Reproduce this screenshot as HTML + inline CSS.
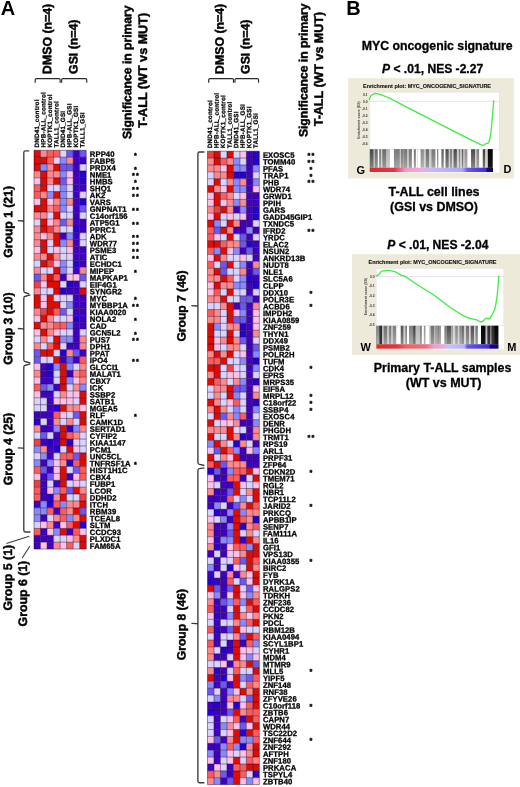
<!DOCTYPE html>
<html lang="en"><head><meta charset="utf-8"><title>Figure</title>
<style>html,body{margin:0;padding:0;background:#fff}svg{display:block}</style></head>
<body>
<svg width="520" height="787" viewBox="0 0 520 787" font-family="'Liberation Sans', sans-serif" font-weight="bold" fill="#000">
<rect width="520" height="787" fill="#fff"/>
<text x="0.8" y="14.6" font-size="20">A</text>
<text x="346.2" y="14.5" font-size="20">B</text>
<defs><filter id="soft" x="-2%" y="-1%" width="104%" height="102%"><feGaussianBlur stdDeviation="0.4"/></filter></defs>
<g id="hmL" filter="url(#soft)"><rect x="34.00" y="150.30" width="6.53" height="6.88" fill="#DE0806"/>
<rect x="40.53" y="150.30" width="6.53" height="6.88" fill="#FF8989"/>
<rect x="47.06" y="150.30" width="6.53" height="6.88" fill="#FF5A5A"/>
<rect x="53.59" y="150.30" width="6.53" height="6.88" fill="#FF5A5A"/>
<rect x="60.12" y="150.30" width="6.53" height="6.88" fill="#D8D4FF"/>
<rect x="66.65" y="150.30" width="6.53" height="6.88" fill="#6B58EF"/>
<rect x="73.18" y="150.30" width="6.53" height="6.88" fill="#4000C2"/>
<rect x="79.71" y="150.30" width="6.53" height="6.88" fill="#6B58EF"/>
<rect x="34.00" y="157.18" width="6.53" height="6.88" fill="#DE0806"/>
<rect x="40.53" y="157.18" width="6.53" height="6.88" fill="#DE0806"/>
<rect x="47.06" y="157.18" width="6.53" height="6.88" fill="#FF5A5A"/>
<rect x="53.59" y="157.18" width="6.53" height="6.88" fill="#D8D4FF"/>
<rect x="60.12" y="157.18" width="6.53" height="6.88" fill="#8888FF"/>
<rect x="66.65" y="157.18" width="6.53" height="6.88" fill="#FF8989"/>
<rect x="73.18" y="157.18" width="6.53" height="6.88" fill="#4000C2"/>
<rect x="79.71" y="157.18" width="6.53" height="6.88" fill="#4000C2"/>
<rect x="34.00" y="164.05" width="6.53" height="6.88" fill="#DE0806"/>
<rect x="40.53" y="164.05" width="6.53" height="6.88" fill="#8888FF"/>
<rect x="47.06" y="164.05" width="6.53" height="6.88" fill="#FF8989"/>
<rect x="53.59" y="164.05" width="6.53" height="6.88" fill="#DE0806"/>
<rect x="60.12" y="164.05" width="6.53" height="6.88" fill="#6B58EF"/>
<rect x="66.65" y="164.05" width="6.53" height="6.88" fill="#6B58EF"/>
<rect x="73.18" y="164.05" width="6.53" height="6.88" fill="#4000C2"/>
<rect x="79.71" y="164.05" width="6.53" height="6.88" fill="#D8D4FF"/>
<rect x="34.00" y="170.93" width="6.53" height="6.88" fill="#FF8989"/>
<rect x="40.53" y="170.93" width="6.53" height="6.88" fill="#DE0806"/>
<rect x="47.06" y="170.93" width="6.53" height="6.88" fill="#FF8989"/>
<rect x="53.59" y="170.93" width="6.53" height="6.88" fill="#FF8989"/>
<rect x="60.12" y="170.93" width="6.53" height="6.88" fill="#8888FF"/>
<rect x="66.65" y="170.93" width="6.53" height="6.88" fill="#FFC0E5"/>
<rect x="73.18" y="170.93" width="6.53" height="6.88" fill="#4000C2"/>
<rect x="79.71" y="170.93" width="6.53" height="6.88" fill="#2700D1"/>
<rect x="34.00" y="177.80" width="6.53" height="6.88" fill="#FFC0E5"/>
<rect x="40.53" y="177.80" width="6.53" height="6.88" fill="#DE0806"/>
<rect x="47.06" y="177.80" width="6.53" height="6.88" fill="#FF8989"/>
<rect x="53.59" y="177.80" width="6.53" height="6.88" fill="#DE0806"/>
<rect x="60.12" y="177.80" width="6.53" height="6.88" fill="#6B58EF"/>
<rect x="66.65" y="177.80" width="6.53" height="6.88" fill="#FFC0E5"/>
<rect x="73.18" y="177.80" width="6.53" height="6.88" fill="#4000C2"/>
<rect x="79.71" y="177.80" width="6.53" height="6.88" fill="#2700D1"/>
<rect x="34.00" y="184.68" width="6.53" height="6.88" fill="#FF5A5A"/>
<rect x="40.53" y="184.68" width="6.53" height="6.88" fill="#DE0806"/>
<rect x="47.06" y="184.68" width="6.53" height="6.88" fill="#D8D4FF"/>
<rect x="53.59" y="184.68" width="6.53" height="6.88" fill="#D8D4FF"/>
<rect x="60.12" y="184.68" width="6.53" height="6.88" fill="#8888FF"/>
<rect x="66.65" y="184.68" width="6.53" height="6.88" fill="#D8D4FF"/>
<rect x="73.18" y="184.68" width="6.53" height="6.88" fill="#4000C2"/>
<rect x="79.71" y="184.68" width="6.53" height="6.88" fill="#4000C2"/>
<rect x="34.00" y="191.55" width="6.53" height="6.88" fill="#FF5A5A"/>
<rect x="40.53" y="191.55" width="6.53" height="6.88" fill="#FF8989"/>
<rect x="47.06" y="191.55" width="6.53" height="6.88" fill="#8888FF"/>
<rect x="53.59" y="191.55" width="6.53" height="6.88" fill="#DE0806"/>
<rect x="60.12" y="191.55" width="6.53" height="6.88" fill="#8888FF"/>
<rect x="66.65" y="191.55" width="6.53" height="6.88" fill="#D8D4FF"/>
<rect x="73.18" y="191.55" width="6.53" height="6.88" fill="#4000C2"/>
<rect x="79.71" y="191.55" width="6.53" height="6.88" fill="#D8D4FF"/>
<rect x="34.00" y="198.43" width="6.53" height="6.88" fill="#FFC0E5"/>
<rect x="40.53" y="198.43" width="6.53" height="6.88" fill="#DE0806"/>
<rect x="47.06" y="198.43" width="6.53" height="6.88" fill="#FFC0E5"/>
<rect x="53.59" y="198.43" width="6.53" height="6.88" fill="#FF8989"/>
<rect x="60.12" y="198.43" width="6.53" height="6.88" fill="#8888FF"/>
<rect x="66.65" y="198.43" width="6.53" height="6.88" fill="#FF8989"/>
<rect x="73.18" y="198.43" width="6.53" height="6.88" fill="#4000C2"/>
<rect x="79.71" y="198.43" width="6.53" height="6.88" fill="#2700D1"/>
<rect x="34.00" y="205.30" width="6.53" height="6.88" fill="#DE0806"/>
<rect x="40.53" y="205.30" width="6.53" height="6.88" fill="#DE0806"/>
<rect x="47.06" y="205.30" width="6.53" height="6.88" fill="#FF8989"/>
<rect x="53.59" y="205.30" width="6.53" height="6.88" fill="#FF5A5A"/>
<rect x="60.12" y="205.30" width="6.53" height="6.88" fill="#8888FF"/>
<rect x="66.65" y="205.30" width="6.53" height="6.88" fill="#D8D4FF"/>
<rect x="73.18" y="205.30" width="6.53" height="6.88" fill="#4000C2"/>
<rect x="79.71" y="205.30" width="6.53" height="6.88" fill="#6B58EF"/>
<rect x="34.00" y="212.18" width="6.53" height="6.88" fill="#FF8989"/>
<rect x="40.53" y="212.18" width="6.53" height="6.88" fill="#FF8989"/>
<rect x="47.06" y="212.18" width="6.53" height="6.88" fill="#D8D4FF"/>
<rect x="53.59" y="212.18" width="6.53" height="6.88" fill="#DE0806"/>
<rect x="60.12" y="212.18" width="6.53" height="6.88" fill="#D8D4FF"/>
<rect x="66.65" y="212.18" width="6.53" height="6.88" fill="#D8D4FF"/>
<rect x="73.18" y="212.18" width="6.53" height="6.88" fill="#4000C2"/>
<rect x="79.71" y="212.18" width="6.53" height="6.88" fill="#D8D4FF"/>
<rect x="34.00" y="219.05" width="6.53" height="6.88" fill="#D8D4FF"/>
<rect x="40.53" y="219.05" width="6.53" height="6.88" fill="#DE0806"/>
<rect x="47.06" y="219.05" width="6.53" height="6.88" fill="#FFC0E5"/>
<rect x="53.59" y="219.05" width="6.53" height="6.88" fill="#FF8989"/>
<rect x="60.12" y="219.05" width="6.53" height="6.88" fill="#6B58EF"/>
<rect x="66.65" y="219.05" width="6.53" height="6.88" fill="#FF8989"/>
<rect x="73.18" y="219.05" width="6.53" height="6.88" fill="#4000C2"/>
<rect x="79.71" y="219.05" width="6.53" height="6.88" fill="#4000C2"/>
<rect x="34.00" y="225.93" width="6.53" height="6.88" fill="#FF8989"/>
<rect x="40.53" y="225.93" width="6.53" height="6.88" fill="#DE0806"/>
<rect x="47.06" y="225.93" width="6.53" height="6.88" fill="#EF4040"/>
<rect x="53.59" y="225.93" width="6.53" height="6.88" fill="#FF8989"/>
<rect x="60.12" y="225.93" width="6.53" height="6.88" fill="#D8D4FF"/>
<rect x="66.65" y="225.93" width="6.53" height="6.88" fill="#D8D4FF"/>
<rect x="73.18" y="225.93" width="6.53" height="6.88" fill="#2700D1"/>
<rect x="79.71" y="225.93" width="6.53" height="6.88" fill="#4000C2"/>
<rect x="34.00" y="232.80" width="6.53" height="6.88" fill="#FF8989"/>
<rect x="40.53" y="232.80" width="6.53" height="6.88" fill="#FFC0E5"/>
<rect x="47.06" y="232.80" width="6.53" height="6.88" fill="#FF8989"/>
<rect x="53.59" y="232.80" width="6.53" height="6.88" fill="#DE0806"/>
<rect x="60.12" y="232.80" width="6.53" height="6.88" fill="#4000C2"/>
<rect x="66.65" y="232.80" width="6.53" height="6.88" fill="#8888FF"/>
<rect x="73.18" y="232.80" width="6.53" height="6.88" fill="#4000C2"/>
<rect x="79.71" y="232.80" width="6.53" height="6.88" fill="#D8D4FF"/>
<rect x="34.00" y="239.68" width="6.53" height="6.88" fill="#FF8989"/>
<rect x="40.53" y="239.68" width="6.53" height="6.88" fill="#DE0806"/>
<rect x="47.06" y="239.68" width="6.53" height="6.88" fill="#D8D4FF"/>
<rect x="53.59" y="239.68" width="6.53" height="6.88" fill="#DE0806"/>
<rect x="60.12" y="239.68" width="6.53" height="6.88" fill="#8888FF"/>
<rect x="66.65" y="239.68" width="6.53" height="6.88" fill="#FF8989"/>
<rect x="73.18" y="239.68" width="6.53" height="6.88" fill="#4000C2"/>
<rect x="79.71" y="239.68" width="6.53" height="6.88" fill="#D8D4FF"/>
<rect x="34.00" y="246.55" width="6.53" height="6.88" fill="#FFC0E5"/>
<rect x="40.53" y="246.55" width="6.53" height="6.88" fill="#DE0806"/>
<rect x="47.06" y="246.55" width="6.53" height="6.88" fill="#D8D4FF"/>
<rect x="53.59" y="246.55" width="6.53" height="6.88" fill="#FFC0E5"/>
<rect x="60.12" y="246.55" width="6.53" height="6.88" fill="#D8D4FF"/>
<rect x="66.65" y="246.55" width="6.53" height="6.88" fill="#FFC0E5"/>
<rect x="73.18" y="246.55" width="6.53" height="6.88" fill="#4000C2"/>
<rect x="79.71" y="246.55" width="6.53" height="6.88" fill="#4000C2"/>
<rect x="34.00" y="253.43" width="6.53" height="6.88" fill="#FF8989"/>
<rect x="40.53" y="253.43" width="6.53" height="6.88" fill="#FF8989"/>
<rect x="47.06" y="253.43" width="6.53" height="6.88" fill="#DE0806"/>
<rect x="53.59" y="253.43" width="6.53" height="6.88" fill="#FF8989"/>
<rect x="60.12" y="253.43" width="6.53" height="6.88" fill="#D8D4FF"/>
<rect x="66.65" y="253.43" width="6.53" height="6.88" fill="#D8D4FF"/>
<rect x="73.18" y="253.43" width="6.53" height="6.88" fill="#4000C2"/>
<rect x="79.71" y="253.43" width="6.53" height="6.88" fill="#4000C2"/>
<rect x="34.00" y="260.30" width="6.53" height="6.88" fill="#D8D4FF"/>
<rect x="40.53" y="260.30" width="6.53" height="6.88" fill="#DE0806"/>
<rect x="47.06" y="260.30" width="6.53" height="6.88" fill="#EF4040"/>
<rect x="53.59" y="260.30" width="6.53" height="6.88" fill="#FFC0E5"/>
<rect x="60.12" y="260.30" width="6.53" height="6.88" fill="#8888FF"/>
<rect x="66.65" y="260.30" width="6.53" height="6.88" fill="#D8D4FF"/>
<rect x="73.18" y="260.30" width="6.53" height="6.88" fill="#2700D1"/>
<rect x="79.71" y="260.30" width="6.53" height="6.88" fill="#4000C2"/>
<rect x="34.00" y="267.18" width="6.53" height="6.88" fill="#FF8989"/>
<rect x="40.53" y="267.18" width="6.53" height="6.88" fill="#D8D4FF"/>
<rect x="47.06" y="267.18" width="6.53" height="6.88" fill="#D8D4FF"/>
<rect x="53.59" y="267.18" width="6.53" height="6.88" fill="#DE0806"/>
<rect x="60.12" y="267.18" width="6.53" height="6.88" fill="#8888FF"/>
<rect x="66.65" y="267.18" width="6.53" height="6.88" fill="#D8D4FF"/>
<rect x="73.18" y="267.18" width="6.53" height="6.88" fill="#4000C2"/>
<rect x="79.71" y="267.18" width="6.53" height="6.88" fill="#FF8989"/>
<rect x="34.00" y="274.05" width="6.53" height="6.88" fill="#6B58EF"/>
<rect x="40.53" y="274.05" width="6.53" height="6.88" fill="#FF8989"/>
<rect x="47.06" y="274.05" width="6.53" height="6.88" fill="#DE0806"/>
<rect x="53.59" y="274.05" width="6.53" height="6.88" fill="#FF5A5A"/>
<rect x="60.12" y="274.05" width="6.53" height="6.88" fill="#4000C2"/>
<rect x="66.65" y="274.05" width="6.53" height="6.88" fill="#FFC0E5"/>
<rect x="73.18" y="274.05" width="6.53" height="6.88" fill="#FFC0E5"/>
<rect x="79.71" y="274.05" width="6.53" height="6.88" fill="#6B58EF"/>
<rect x="34.00" y="280.93" width="6.53" height="6.88" fill="#EF4040"/>
<rect x="40.53" y="280.93" width="6.53" height="6.88" fill="#FFC0E5"/>
<rect x="47.06" y="280.93" width="6.53" height="6.88" fill="#DE0806"/>
<rect x="53.59" y="280.93" width="6.53" height="6.88" fill="#DE0806"/>
<rect x="60.12" y="280.93" width="6.53" height="6.88" fill="#D8D4FF"/>
<rect x="66.65" y="280.93" width="6.53" height="6.88" fill="#2700D1"/>
<rect x="73.18" y="280.93" width="6.53" height="6.88" fill="#4000C2"/>
<rect x="79.71" y="280.93" width="6.53" height="6.88" fill="#D8D4FF"/>
<rect x="34.00" y="287.80" width="6.53" height="6.88" fill="#FF8989"/>
<rect x="40.53" y="287.80" width="6.53" height="6.88" fill="#D8D4FF"/>
<rect x="47.06" y="287.80" width="6.53" height="6.88" fill="#D8D4FF"/>
<rect x="53.59" y="287.80" width="6.53" height="6.88" fill="#DE0806"/>
<rect x="60.12" y="287.80" width="6.53" height="6.88" fill="#2700D1"/>
<rect x="66.65" y="287.80" width="6.53" height="6.88" fill="#4000C2"/>
<rect x="73.18" y="287.80" width="6.53" height="6.88" fill="#4000C2"/>
<rect x="79.71" y="287.80" width="6.53" height="6.88" fill="#DE0806"/>
<rect x="34.00" y="294.68" width="6.53" height="6.88" fill="#DE0806"/>
<rect x="40.53" y="294.68" width="6.53" height="6.88" fill="#FFC0E5"/>
<rect x="47.06" y="294.68" width="6.53" height="6.88" fill="#DE0806"/>
<rect x="53.59" y="294.68" width="6.53" height="6.88" fill="#D8D4FF"/>
<rect x="60.12" y="294.68" width="6.53" height="6.88" fill="#D8D4FF"/>
<rect x="66.65" y="294.68" width="6.53" height="6.88" fill="#D8D4FF"/>
<rect x="73.18" y="294.68" width="6.53" height="6.88" fill="#4000C2"/>
<rect x="79.71" y="294.68" width="6.53" height="6.88" fill="#4000C2"/>
<rect x="34.00" y="301.55" width="6.53" height="6.88" fill="#DE0806"/>
<rect x="40.53" y="301.55" width="6.53" height="6.88" fill="#FFC0E5"/>
<rect x="47.06" y="301.55" width="6.53" height="6.88" fill="#DE0806"/>
<rect x="53.59" y="301.55" width="6.53" height="6.88" fill="#DE0806"/>
<rect x="60.12" y="301.55" width="6.53" height="6.88" fill="#D8D4FF"/>
<rect x="66.65" y="301.55" width="6.53" height="6.88" fill="#8888FF"/>
<rect x="73.18" y="301.55" width="6.53" height="6.88" fill="#4000C2"/>
<rect x="79.71" y="301.55" width="6.53" height="6.88" fill="#4000C2"/>
<rect x="34.00" y="308.43" width="6.53" height="6.88" fill="#FF8989"/>
<rect x="40.53" y="308.43" width="6.53" height="6.88" fill="#EF4040"/>
<rect x="47.06" y="308.43" width="6.53" height="6.88" fill="#DE0806"/>
<rect x="53.59" y="308.43" width="6.53" height="6.88" fill="#FF5A5A"/>
<rect x="60.12" y="308.43" width="6.53" height="6.88" fill="#6B58EF"/>
<rect x="66.65" y="308.43" width="6.53" height="6.88" fill="#D8D4FF"/>
<rect x="73.18" y="308.43" width="6.53" height="6.88" fill="#4000C2"/>
<rect x="79.71" y="308.43" width="6.53" height="6.88" fill="#4000C2"/>
<rect x="34.00" y="315.30" width="6.53" height="6.88" fill="#FFC0E5"/>
<rect x="40.53" y="315.30" width="6.53" height="6.88" fill="#DE0806"/>
<rect x="47.06" y="315.30" width="6.53" height="6.88" fill="#FF8989"/>
<rect x="53.59" y="315.30" width="6.53" height="6.88" fill="#D8D4FF"/>
<rect x="60.12" y="315.30" width="6.53" height="6.88" fill="#D8D4FF"/>
<rect x="66.65" y="315.30" width="6.53" height="6.88" fill="#FFC0E5"/>
<rect x="73.18" y="315.30" width="6.53" height="6.88" fill="#2700D1"/>
<rect x="79.71" y="315.30" width="6.53" height="6.88" fill="#4000C2"/>
<rect x="34.00" y="322.18" width="6.53" height="6.88" fill="#DE0806"/>
<rect x="40.53" y="322.18" width="6.53" height="6.88" fill="#FF8989"/>
<rect x="47.06" y="322.18" width="6.53" height="6.88" fill="#FF8989"/>
<rect x="53.59" y="322.18" width="6.53" height="6.88" fill="#FF5A5A"/>
<rect x="60.12" y="322.18" width="6.53" height="6.88" fill="#FF5A5A"/>
<rect x="66.65" y="322.18" width="6.53" height="6.88" fill="#8888FF"/>
<rect x="73.18" y="322.18" width="6.53" height="6.88" fill="#4000C2"/>
<rect x="79.71" y="322.18" width="6.53" height="6.88" fill="#4000C2"/>
<rect x="34.00" y="329.05" width="6.53" height="6.88" fill="#FFC0E5"/>
<rect x="40.53" y="329.05" width="6.53" height="6.88" fill="#DE0806"/>
<rect x="47.06" y="329.05" width="6.53" height="6.88" fill="#FF8989"/>
<rect x="53.59" y="329.05" width="6.53" height="6.88" fill="#FFC0E5"/>
<rect x="60.12" y="329.05" width="6.53" height="6.88" fill="#D8D4FF"/>
<rect x="66.65" y="329.05" width="6.53" height="6.88" fill="#D8D4FF"/>
<rect x="73.18" y="329.05" width="6.53" height="6.88" fill="#4000C2"/>
<rect x="79.71" y="329.05" width="6.53" height="6.88" fill="#D8D4FF"/>
<rect x="34.00" y="335.93" width="6.53" height="6.88" fill="#D8D4FF"/>
<rect x="40.53" y="335.93" width="6.53" height="6.88" fill="#FF8989"/>
<rect x="47.06" y="335.93" width="6.53" height="6.88" fill="#D8D4FF"/>
<rect x="53.59" y="335.93" width="6.53" height="6.88" fill="#DE0806"/>
<rect x="60.12" y="335.93" width="6.53" height="6.88" fill="#8888FF"/>
<rect x="66.65" y="335.93" width="6.53" height="6.88" fill="#8888FF"/>
<rect x="73.18" y="335.93" width="6.53" height="6.88" fill="#4000C2"/>
<rect x="79.71" y="335.93" width="6.53" height="6.88" fill="#FF8989"/>
<rect x="34.00" y="342.80" width="6.53" height="6.88" fill="#FF8989"/>
<rect x="40.53" y="342.80" width="6.53" height="6.88" fill="#D8D4FF"/>
<rect x="47.06" y="342.80" width="6.53" height="6.88" fill="#FF5A5A"/>
<rect x="53.59" y="342.80" width="6.53" height="6.88" fill="#DE0806"/>
<rect x="60.12" y="342.80" width="6.53" height="6.88" fill="#D8D4FF"/>
<rect x="66.65" y="342.80" width="6.53" height="6.88" fill="#4000C2"/>
<rect x="73.18" y="342.80" width="6.53" height="6.88" fill="#4000C2"/>
<rect x="79.71" y="342.80" width="6.53" height="6.88" fill="#FF8989"/>
<rect x="34.00" y="349.68" width="6.53" height="6.88" fill="#6B58EF"/>
<rect x="40.53" y="349.68" width="6.53" height="6.88" fill="#DE0806"/>
<rect x="47.06" y="349.68" width="6.53" height="6.88" fill="#DE0806"/>
<rect x="53.59" y="349.68" width="6.53" height="6.88" fill="#D8D4FF"/>
<rect x="60.12" y="349.68" width="6.53" height="6.88" fill="#2700D1"/>
<rect x="66.65" y="349.68" width="6.53" height="6.88" fill="#FF8989"/>
<rect x="73.18" y="349.68" width="6.53" height="6.88" fill="#6B58EF"/>
<rect x="79.71" y="349.68" width="6.53" height="6.88" fill="#4000C2"/>
<rect x="34.00" y="356.55" width="6.53" height="6.88" fill="#6B58EF"/>
<rect x="40.53" y="356.55" width="6.53" height="6.88" fill="#D8D4FF"/>
<rect x="47.06" y="356.55" width="6.53" height="6.88" fill="#D8D4FF"/>
<rect x="53.59" y="356.55" width="6.53" height="6.88" fill="#DE0806"/>
<rect x="60.12" y="356.55" width="6.53" height="6.88" fill="#4000C2"/>
<rect x="66.65" y="356.55" width="6.53" height="6.88" fill="#6B58EF"/>
<rect x="73.18" y="356.55" width="6.53" height="6.88" fill="#4000C2"/>
<rect x="79.71" y="356.55" width="6.53" height="6.88" fill="#FF5A5A"/>
<rect x="34.00" y="363.43" width="6.53" height="6.88" fill="#FFC0E5"/>
<rect x="40.53" y="363.43" width="6.53" height="6.88" fill="#4000C2"/>
<rect x="47.06" y="363.43" width="6.53" height="6.88" fill="#2700D1"/>
<rect x="53.59" y="363.43" width="6.53" height="6.88" fill="#8888FF"/>
<rect x="60.12" y="363.43" width="6.53" height="6.88" fill="#DE0806"/>
<rect x="66.65" y="363.43" width="6.53" height="6.88" fill="#8888FF"/>
<rect x="73.18" y="363.43" width="6.53" height="6.88" fill="#D8D4FF"/>
<rect x="79.71" y="363.43" width="6.53" height="6.88" fill="#FF8989"/>
<rect x="34.00" y="370.30" width="6.53" height="6.88" fill="#FF8989"/>
<rect x="40.53" y="370.30" width="6.53" height="6.88" fill="#4000C2"/>
<rect x="47.06" y="370.30" width="6.53" height="6.88" fill="#2700D1"/>
<rect x="53.59" y="370.30" width="6.53" height="6.88" fill="#D8D4FF"/>
<rect x="60.12" y="370.30" width="6.53" height="6.88" fill="#DE0806"/>
<rect x="66.65" y="370.30" width="6.53" height="6.88" fill="#4000C2"/>
<rect x="73.18" y="370.30" width="6.53" height="6.88" fill="#FF8989"/>
<rect x="79.71" y="370.30" width="6.53" height="6.88" fill="#FF5A5A"/>
<rect x="34.00" y="377.18" width="6.53" height="6.88" fill="#FFC0E5"/>
<rect x="40.53" y="377.18" width="6.53" height="6.88" fill="#4000C2"/>
<rect x="47.06" y="377.18" width="6.53" height="6.88" fill="#4000C2"/>
<rect x="53.59" y="377.18" width="6.53" height="6.88" fill="#D8D4FF"/>
<rect x="60.12" y="377.18" width="6.53" height="6.88" fill="#DE0806"/>
<rect x="66.65" y="377.18" width="6.53" height="6.88" fill="#8888FF"/>
<rect x="73.18" y="377.18" width="6.53" height="6.88" fill="#FFC0E5"/>
<rect x="79.71" y="377.18" width="6.53" height="6.88" fill="#FF8989"/>
<rect x="34.00" y="384.05" width="6.53" height="6.88" fill="#FF5A5A"/>
<rect x="40.53" y="384.05" width="6.53" height="6.88" fill="#6B58EF"/>
<rect x="47.06" y="384.05" width="6.53" height="6.88" fill="#8888FF"/>
<rect x="53.59" y="384.05" width="6.53" height="6.88" fill="#4000C2"/>
<rect x="60.12" y="384.05" width="6.53" height="6.88" fill="#DE0806"/>
<rect x="66.65" y="384.05" width="6.53" height="6.88" fill="#D8D4FF"/>
<rect x="73.18" y="384.05" width="6.53" height="6.88" fill="#FF8989"/>
<rect x="79.71" y="384.05" width="6.53" height="6.88" fill="#8888FF"/>
<rect x="34.00" y="390.93" width="6.53" height="6.88" fill="#FFC0E5"/>
<rect x="40.53" y="390.93" width="6.53" height="6.88" fill="#4000C2"/>
<rect x="47.06" y="390.93" width="6.53" height="6.88" fill="#4000C2"/>
<rect x="53.59" y="390.93" width="6.53" height="6.88" fill="#D8D4FF"/>
<rect x="60.12" y="390.93" width="6.53" height="6.88" fill="#FF8989"/>
<rect x="66.65" y="390.93" width="6.53" height="6.88" fill="#FFC0E5"/>
<rect x="73.18" y="390.93" width="6.53" height="6.88" fill="#FFC0E5"/>
<rect x="79.71" y="390.93" width="6.53" height="6.88" fill="#DE0806"/>
<rect x="34.00" y="397.80" width="6.53" height="6.88" fill="#D8D4FF"/>
<rect x="40.53" y="397.80" width="6.53" height="6.88" fill="#D8D4FF"/>
<rect x="47.06" y="397.80" width="6.53" height="6.88" fill="#4000C2"/>
<rect x="53.59" y="397.80" width="6.53" height="6.88" fill="#FFC0E5"/>
<rect x="60.12" y="397.80" width="6.53" height="6.88" fill="#FFC0E5"/>
<rect x="66.65" y="397.80" width="6.53" height="6.88" fill="#FFC0E5"/>
<rect x="73.18" y="397.80" width="6.53" height="6.88" fill="#D8D4FF"/>
<rect x="79.71" y="397.80" width="6.53" height="6.88" fill="#DE0806"/>
<rect x="34.00" y="404.68" width="6.53" height="6.88" fill="#D8D4FF"/>
<rect x="40.53" y="404.68" width="6.53" height="6.88" fill="#D8D4FF"/>
<rect x="47.06" y="404.68" width="6.53" height="6.88" fill="#4000C2"/>
<rect x="53.59" y="404.68" width="6.53" height="6.88" fill="#2700D1"/>
<rect x="60.12" y="404.68" width="6.53" height="6.88" fill="#DE0806"/>
<rect x="66.65" y="404.68" width="6.53" height="6.88" fill="#FF8989"/>
<rect x="73.18" y="404.68" width="6.53" height="6.88" fill="#FF8989"/>
<rect x="79.71" y="404.68" width="6.53" height="6.88" fill="#FFC0E5"/>
<rect x="34.00" y="411.55" width="6.53" height="6.88" fill="#4000C2"/>
<rect x="40.53" y="411.55" width="6.53" height="6.88" fill="#4000C2"/>
<rect x="47.06" y="411.55" width="6.53" height="6.88" fill="#4000C2"/>
<rect x="53.59" y="411.55" width="6.53" height="6.88" fill="#FF5A5A"/>
<rect x="60.12" y="411.55" width="6.53" height="6.88" fill="#FFC0E5"/>
<rect x="66.65" y="411.55" width="6.53" height="6.88" fill="#D8D4FF"/>
<rect x="73.18" y="411.55" width="6.53" height="6.88" fill="#6B58EF"/>
<rect x="79.71" y="411.55" width="6.53" height="6.88" fill="#DE0806"/>
<rect x="34.00" y="418.43" width="6.53" height="6.88" fill="#2700D1"/>
<rect x="40.53" y="418.43" width="6.53" height="6.88" fill="#D8D4FF"/>
<rect x="47.06" y="418.43" width="6.53" height="6.88" fill="#4000C2"/>
<rect x="53.59" y="418.43" width="6.53" height="6.88" fill="#FF8989"/>
<rect x="60.12" y="418.43" width="6.53" height="6.88" fill="#D8D4FF"/>
<rect x="66.65" y="418.43" width="6.53" height="6.88" fill="#FF8989"/>
<rect x="73.18" y="418.43" width="6.53" height="6.88" fill="#D8D4FF"/>
<rect x="79.71" y="418.43" width="6.53" height="6.88" fill="#DE0806"/>
<rect x="34.00" y="425.30" width="6.53" height="6.88" fill="#FF8989"/>
<rect x="40.53" y="425.30" width="6.53" height="6.88" fill="#4000C2"/>
<rect x="47.06" y="425.30" width="6.53" height="6.88" fill="#4000C2"/>
<rect x="53.59" y="425.30" width="6.53" height="6.88" fill="#8888FF"/>
<rect x="60.12" y="425.30" width="6.53" height="6.88" fill="#DE0806"/>
<rect x="66.65" y="425.30" width="6.53" height="6.88" fill="#2700D1"/>
<rect x="73.18" y="425.30" width="6.53" height="6.88" fill="#8888FF"/>
<rect x="79.71" y="425.30" width="6.53" height="6.88" fill="#FF8989"/>
<rect x="34.00" y="432.18" width="6.53" height="6.88" fill="#D8D4FF"/>
<rect x="40.53" y="432.18" width="6.53" height="6.88" fill="#6B58EF"/>
<rect x="47.06" y="432.18" width="6.53" height="6.88" fill="#D8D4FF"/>
<rect x="53.59" y="432.18" width="6.53" height="6.88" fill="#4000C2"/>
<rect x="60.12" y="432.18" width="6.53" height="6.88" fill="#DE0806"/>
<rect x="66.65" y="432.18" width="6.53" height="6.88" fill="#FF5A5A"/>
<rect x="73.18" y="432.18" width="6.53" height="6.88" fill="#FF8989"/>
<rect x="79.71" y="432.18" width="6.53" height="6.88" fill="#D8D4FF"/>
<rect x="34.00" y="439.05" width="6.53" height="6.88" fill="#EF4040"/>
<rect x="40.53" y="439.05" width="6.53" height="6.88" fill="#4000C2"/>
<rect x="47.06" y="439.05" width="6.53" height="6.88" fill="#2700D1"/>
<rect x="53.59" y="439.05" width="6.53" height="6.88" fill="#4000C2"/>
<rect x="60.12" y="439.05" width="6.53" height="6.88" fill="#DE0806"/>
<rect x="66.65" y="439.05" width="6.53" height="6.88" fill="#2700D1"/>
<rect x="73.18" y="439.05" width="6.53" height="6.88" fill="#D8D4FF"/>
<rect x="79.71" y="439.05" width="6.53" height="6.88" fill="#D8D4FF"/>
<rect x="34.00" y="445.93" width="6.53" height="6.88" fill="#8888FF"/>
<rect x="40.53" y="445.93" width="6.53" height="6.88" fill="#FF8989"/>
<rect x="47.06" y="445.93" width="6.53" height="6.88" fill="#4000C2"/>
<rect x="53.59" y="445.93" width="6.53" height="6.88" fill="#2700D1"/>
<rect x="60.12" y="445.93" width="6.53" height="6.88" fill="#D8D4FF"/>
<rect x="66.65" y="445.93" width="6.53" height="6.88" fill="#DE0806"/>
<rect x="73.18" y="445.93" width="6.53" height="6.88" fill="#FFC0E5"/>
<rect x="79.71" y="445.93" width="6.53" height="6.88" fill="#D8D4FF"/>
<rect x="34.00" y="452.80" width="6.53" height="6.88" fill="#D8D4FF"/>
<rect x="40.53" y="452.80" width="6.53" height="6.88" fill="#8888FF"/>
<rect x="47.06" y="452.80" width="6.53" height="6.88" fill="#4000C2"/>
<rect x="53.59" y="452.80" width="6.53" height="6.88" fill="#D8D4FF"/>
<rect x="60.12" y="452.80" width="6.53" height="6.88" fill="#FF5A5A"/>
<rect x="66.65" y="452.80" width="6.53" height="6.88" fill="#FF5A5A"/>
<rect x="73.18" y="452.80" width="6.53" height="6.88" fill="#6B58EF"/>
<rect x="79.71" y="452.80" width="6.53" height="6.88" fill="#DE0806"/>
<rect x="34.00" y="459.68" width="6.53" height="6.88" fill="#8888FF"/>
<rect x="40.53" y="459.68" width="6.53" height="6.88" fill="#4000C2"/>
<rect x="47.06" y="459.68" width="6.53" height="6.88" fill="#8888FF"/>
<rect x="53.59" y="459.68" width="6.53" height="6.88" fill="#FFC0E5"/>
<rect x="60.12" y="459.68" width="6.53" height="6.88" fill="#FF8989"/>
<rect x="66.65" y="459.68" width="6.53" height="6.88" fill="#2700D1"/>
<rect x="73.18" y="459.68" width="6.53" height="6.88" fill="#FF5A5A"/>
<rect x="79.71" y="459.68" width="6.53" height="6.88" fill="#DE0806"/>
<rect x="34.00" y="466.55" width="6.53" height="6.88" fill="#FF5A5A"/>
<rect x="40.53" y="466.55" width="6.53" height="6.88" fill="#6B58EF"/>
<rect x="47.06" y="466.55" width="6.53" height="6.88" fill="#4000C2"/>
<rect x="53.59" y="466.55" width="6.53" height="6.88" fill="#FFC0E5"/>
<rect x="60.12" y="466.55" width="6.53" height="6.88" fill="#DE0806"/>
<rect x="66.65" y="466.55" width="6.53" height="6.88" fill="#D8D4FF"/>
<rect x="73.18" y="466.55" width="6.53" height="6.88" fill="#6B58EF"/>
<rect x="79.71" y="466.55" width="6.53" height="6.88" fill="#FF5A5A"/>
<rect x="34.00" y="473.43" width="6.53" height="6.88" fill="#FFC0E5"/>
<rect x="40.53" y="473.43" width="6.53" height="6.88" fill="#4000C2"/>
<rect x="47.06" y="473.43" width="6.53" height="6.88" fill="#6B58EF"/>
<rect x="53.59" y="473.43" width="6.53" height="6.88" fill="#FFC0E5"/>
<rect x="60.12" y="473.43" width="6.53" height="6.88" fill="#DE0806"/>
<rect x="66.65" y="473.43" width="6.53" height="6.88" fill="#4000C2"/>
<rect x="73.18" y="473.43" width="6.53" height="6.88" fill="#FFC0E5"/>
<rect x="79.71" y="473.43" width="6.53" height="6.88" fill="#FF5A5A"/>
<rect x="34.00" y="480.30" width="6.53" height="6.88" fill="#EF4040"/>
<rect x="40.53" y="480.30" width="6.53" height="6.88" fill="#4000C2"/>
<rect x="47.06" y="480.30" width="6.53" height="6.88" fill="#D8D4FF"/>
<rect x="53.59" y="480.30" width="6.53" height="6.88" fill="#4000C2"/>
<rect x="60.12" y="480.30" width="6.53" height="6.88" fill="#DE0806"/>
<rect x="66.65" y="480.30" width="6.53" height="6.88" fill="#D8D4FF"/>
<rect x="73.18" y="480.30" width="6.53" height="6.88" fill="#FFC0E5"/>
<rect x="79.71" y="480.30" width="6.53" height="6.88" fill="#D8D4FF"/>
<rect x="34.00" y="487.18" width="6.53" height="6.88" fill="#FF5A5A"/>
<rect x="40.53" y="487.18" width="6.53" height="6.88" fill="#4000C2"/>
<rect x="47.06" y="487.18" width="6.53" height="6.88" fill="#FFC0E5"/>
<rect x="53.59" y="487.18" width="6.53" height="6.88" fill="#8888FF"/>
<rect x="60.12" y="487.18" width="6.53" height="6.88" fill="#FF5A5A"/>
<rect x="66.65" y="487.18" width="6.53" height="6.88" fill="#6B58EF"/>
<rect x="73.18" y="487.18" width="6.53" height="6.88" fill="#DE0806"/>
<rect x="79.71" y="487.18" width="6.53" height="6.88" fill="#FF8989"/>
<rect x="34.00" y="494.05" width="6.53" height="6.88" fill="#FF5A5A"/>
<rect x="40.53" y="494.05" width="6.53" height="6.88" fill="#4000C2"/>
<rect x="47.06" y="494.05" width="6.53" height="6.88" fill="#2700D1"/>
<rect x="53.59" y="494.05" width="6.53" height="6.88" fill="#FF8989"/>
<rect x="60.12" y="494.05" width="6.53" height="6.88" fill="#DE0806"/>
<rect x="66.65" y="494.05" width="6.53" height="6.88" fill="#D8D4FF"/>
<rect x="73.18" y="494.05" width="6.53" height="6.88" fill="#D8D4FF"/>
<rect x="79.71" y="494.05" width="6.53" height="6.88" fill="#EF4040"/>
<rect x="34.00" y="500.93" width="6.53" height="6.88" fill="#4000C2"/>
<rect x="40.53" y="500.93" width="6.53" height="6.88" fill="#8888FF"/>
<rect x="47.06" y="500.93" width="6.53" height="6.88" fill="#2700D1"/>
<rect x="53.59" y="500.93" width="6.53" height="6.88" fill="#FF5A5A"/>
<rect x="60.12" y="500.93" width="6.53" height="6.88" fill="#8888FF"/>
<rect x="66.65" y="500.93" width="6.53" height="6.88" fill="#FF8989"/>
<rect x="73.18" y="500.93" width="6.53" height="6.88" fill="#FF8989"/>
<rect x="79.71" y="500.93" width="6.53" height="6.88" fill="#DE0806"/>
<rect x="34.00" y="507.80" width="6.53" height="6.88" fill="#8888FF"/>
<rect x="40.53" y="507.80" width="6.53" height="6.88" fill="#8888FF"/>
<rect x="47.06" y="507.80" width="6.53" height="6.88" fill="#FF5A5A"/>
<rect x="53.59" y="507.80" width="6.53" height="6.88" fill="#4000C2"/>
<rect x="60.12" y="507.80" width="6.53" height="6.88" fill="#FF5A5A"/>
<rect x="66.65" y="507.80" width="6.53" height="6.88" fill="#FF8989"/>
<rect x="73.18" y="507.80" width="6.53" height="6.88" fill="#DE0806"/>
<rect x="79.71" y="507.80" width="6.53" height="6.88" fill="#6B58EF"/>
<rect x="34.00" y="514.67" width="6.53" height="6.88" fill="#8888FF"/>
<rect x="40.53" y="514.67" width="6.53" height="6.88" fill="#4000C2"/>
<rect x="47.06" y="514.67" width="6.53" height="6.88" fill="#D8D4FF"/>
<rect x="53.59" y="514.67" width="6.53" height="6.88" fill="#FF8989"/>
<rect x="60.12" y="514.67" width="6.53" height="6.88" fill="#FF5A5A"/>
<rect x="66.65" y="514.67" width="6.53" height="6.88" fill="#8888FF"/>
<rect x="73.18" y="514.67" width="6.53" height="6.88" fill="#FF8989"/>
<rect x="79.71" y="514.67" width="6.53" height="6.88" fill="#DE0806"/>
<rect x="34.00" y="521.55" width="6.53" height="6.88" fill="#D8D4FF"/>
<rect x="40.53" y="521.55" width="6.53" height="6.88" fill="#FFC0E5"/>
<rect x="47.06" y="521.55" width="6.53" height="6.88" fill="#FF8989"/>
<rect x="53.59" y="521.55" width="6.53" height="6.88" fill="#4000C2"/>
<rect x="60.12" y="521.55" width="6.53" height="6.88" fill="#FFC0E5"/>
<rect x="66.65" y="521.55" width="6.53" height="6.88" fill="#FF5A5A"/>
<rect x="73.18" y="521.55" width="6.53" height="6.88" fill="#DE0806"/>
<rect x="79.71" y="521.55" width="6.53" height="6.88" fill="#2700D1"/>
<rect x="34.00" y="528.42" width="6.53" height="6.88" fill="#FF5A5A"/>
<rect x="40.53" y="528.42" width="6.53" height="6.88" fill="#4000C2"/>
<rect x="47.06" y="528.42" width="6.53" height="6.88" fill="#FFC0E5"/>
<rect x="53.59" y="528.42" width="6.53" height="6.88" fill="#8888FF"/>
<rect x="60.12" y="528.42" width="6.53" height="6.88" fill="#DE0806"/>
<rect x="66.65" y="528.42" width="6.53" height="6.88" fill="#4000C2"/>
<rect x="73.18" y="528.42" width="6.53" height="6.88" fill="#FF5A5A"/>
<rect x="79.71" y="528.42" width="6.53" height="6.88" fill="#FFC0E5"/>
<rect x="34.00" y="535.30" width="6.53" height="6.88" fill="#4000C2"/>
<rect x="40.53" y="535.30" width="6.53" height="6.88" fill="#4000C2"/>
<rect x="47.06" y="535.30" width="6.53" height="6.88" fill="#4000C2"/>
<rect x="53.59" y="535.30" width="6.53" height="6.88" fill="#D8D4FF"/>
<rect x="60.12" y="535.30" width="6.53" height="6.88" fill="#D8D4FF"/>
<rect x="66.65" y="535.30" width="6.53" height="6.88" fill="#FFC0E5"/>
<rect x="73.18" y="535.30" width="6.53" height="6.88" fill="#FF8989"/>
<rect x="79.71" y="535.30" width="6.53" height="6.88" fill="#DE0806"/>
<rect x="34.00" y="542.17" width="6.53" height="6.88" fill="#4000C2"/>
<rect x="40.53" y="542.17" width="6.53" height="6.88" fill="#FFC0E5"/>
<rect x="47.06" y="542.17" width="6.53" height="6.88" fill="#4000C2"/>
<rect x="53.59" y="542.17" width="6.53" height="6.88" fill="#FF8989"/>
<rect x="60.12" y="542.17" width="6.53" height="6.88" fill="#FFC0E5"/>
<rect x="66.65" y="542.17" width="6.53" height="6.88" fill="#FF5A5A"/>
<rect x="73.18" y="542.17" width="6.53" height="6.88" fill="#D8D4FF"/>
<rect x="79.71" y="542.17" width="6.53" height="6.88" fill="#DE0806"/>
<path d="M34.00 150.30V549.05M40.53 150.30V549.05M47.06 150.30V549.05M53.59 150.30V549.05M60.12 150.30V549.05M66.65 150.30V549.05M73.18 150.30V549.05M79.71 150.30V549.05M86.24 150.30V549.05M34.00 150.30H86.24M34.00 157.18H86.24M34.00 164.05H86.24M34.00 170.93H86.24M34.00 177.80H86.24M34.00 184.68H86.24M34.00 191.55H86.24M34.00 198.43H86.24M34.00 205.30H86.24M34.00 212.18H86.24M34.00 219.05H86.24M34.00 225.93H86.24M34.00 232.80H86.24M34.00 239.68H86.24M34.00 246.55H86.24M34.00 253.43H86.24M34.00 260.30H86.24M34.00 267.18H86.24M34.00 274.05H86.24M34.00 280.93H86.24M34.00 287.80H86.24M34.00 294.68H86.24M34.00 301.55H86.24M34.00 308.43H86.24M34.00 315.30H86.24M34.00 322.18H86.24M34.00 329.05H86.24M34.00 335.93H86.24M34.00 342.80H86.24M34.00 349.68H86.24M34.00 356.55H86.24M34.00 363.43H86.24M34.00 370.30H86.24M34.00 377.18H86.24M34.00 384.05H86.24M34.00 390.93H86.24M34.00 397.80H86.24M34.00 404.68H86.24M34.00 411.55H86.24M34.00 418.43H86.24M34.00 425.30H86.24M34.00 432.18H86.24M34.00 439.05H86.24M34.00 445.93H86.24M34.00 452.80H86.24M34.00 459.68H86.24M34.00 466.55H86.24M34.00 473.43H86.24M34.00 480.30H86.24M34.00 487.18H86.24M34.00 494.05H86.24M34.00 500.93H86.24M34.00 507.80H86.24M34.00 514.67H86.24M34.00 521.55H86.24M34.00 528.42H86.24M34.00 535.30H86.24M34.00 542.17H86.24M34.00 549.05H86.24" stroke="#1a0028" stroke-opacity="0.62" stroke-width="0.7" fill="none"/></g>
<g id="hmR" filter="url(#soft)"><rect x="207.50" y="151.20" width="6.48" height="6.88" fill="#EF4040"/>
<rect x="213.98" y="151.20" width="6.48" height="6.88" fill="#DE0806"/>
<rect x="220.46" y="151.20" width="6.48" height="6.88" fill="#D8D4FF"/>
<rect x="226.94" y="151.20" width="6.48" height="6.88" fill="#DE0806"/>
<rect x="233.42" y="151.20" width="6.48" height="6.88" fill="#D8D4FF"/>
<rect x="239.90" y="151.20" width="6.48" height="6.88" fill="#FFC0E5"/>
<rect x="246.38" y="151.20" width="6.48" height="6.88" fill="#4000C2"/>
<rect x="252.86" y="151.20" width="6.48" height="6.88" fill="#2700D1"/>
<rect x="207.50" y="158.08" width="6.48" height="6.88" fill="#FF8989"/>
<rect x="213.98" y="158.08" width="6.48" height="6.88" fill="#DE0806"/>
<rect x="220.46" y="158.08" width="6.48" height="6.88" fill="#FF5A5A"/>
<rect x="226.94" y="158.08" width="6.48" height="6.88" fill="#FF8989"/>
<rect x="233.42" y="158.08" width="6.48" height="6.88" fill="#8888FF"/>
<rect x="239.90" y="158.08" width="6.48" height="6.88" fill="#D8D4FF"/>
<rect x="246.38" y="158.08" width="6.48" height="6.88" fill="#4000C2"/>
<rect x="252.86" y="158.08" width="6.48" height="6.88" fill="#2700D1"/>
<rect x="207.50" y="164.97" width="6.48" height="6.88" fill="#FF8989"/>
<rect x="213.98" y="164.97" width="6.48" height="6.88" fill="#FF8989"/>
<rect x="220.46" y="164.97" width="6.48" height="6.88" fill="#FFC0E5"/>
<rect x="226.94" y="164.97" width="6.48" height="6.88" fill="#DE0806"/>
<rect x="233.42" y="164.97" width="6.48" height="6.88" fill="#8888FF"/>
<rect x="239.90" y="164.97" width="6.48" height="6.88" fill="#8888FF"/>
<rect x="246.38" y="164.97" width="6.48" height="6.88" fill="#4000C2"/>
<rect x="252.86" y="164.97" width="6.48" height="6.88" fill="#8888FF"/>
<rect x="207.50" y="171.85" width="6.48" height="6.88" fill="#D8D4FF"/>
<rect x="213.98" y="171.85" width="6.48" height="6.88" fill="#FF8989"/>
<rect x="220.46" y="171.85" width="6.48" height="6.88" fill="#FF8989"/>
<rect x="226.94" y="171.85" width="6.48" height="6.88" fill="#DE0806"/>
<rect x="233.42" y="171.85" width="6.48" height="6.88" fill="#2700D1"/>
<rect x="239.90" y="171.85" width="6.48" height="6.88" fill="#2700D1"/>
<rect x="246.38" y="171.85" width="6.48" height="6.88" fill="#4000C2"/>
<rect x="252.86" y="171.85" width="6.48" height="6.88" fill="#D8D4FF"/>
<rect x="207.50" y="178.74" width="6.48" height="6.88" fill="#D8D4FF"/>
<rect x="213.98" y="178.74" width="6.48" height="6.88" fill="#DE0806"/>
<rect x="220.46" y="178.74" width="6.48" height="6.88" fill="#D8D4FF"/>
<rect x="226.94" y="178.74" width="6.48" height="6.88" fill="#FF8989"/>
<rect x="233.42" y="178.74" width="6.48" height="6.88" fill="#8888FF"/>
<rect x="239.90" y="178.74" width="6.48" height="6.88" fill="#FF8989"/>
<rect x="246.38" y="178.74" width="6.48" height="6.88" fill="#4000C2"/>
<rect x="252.86" y="178.74" width="6.48" height="6.88" fill="#8888FF"/>
<rect x="207.50" y="185.62" width="6.48" height="6.88" fill="#DE0806"/>
<rect x="213.98" y="185.62" width="6.48" height="6.88" fill="#FF8989"/>
<rect x="220.46" y="185.62" width="6.48" height="6.88" fill="#FFC0E5"/>
<rect x="226.94" y="185.62" width="6.48" height="6.88" fill="#DE0806"/>
<rect x="233.42" y="185.62" width="6.48" height="6.88" fill="#8888FF"/>
<rect x="239.90" y="185.62" width="6.48" height="6.88" fill="#8888FF"/>
<rect x="246.38" y="185.62" width="6.48" height="6.88" fill="#4000C2"/>
<rect x="252.86" y="185.62" width="6.48" height="6.88" fill="#FFC0E5"/>
<rect x="207.50" y="192.51" width="6.48" height="6.88" fill="#FFC0E5"/>
<rect x="213.98" y="192.51" width="6.48" height="6.88" fill="#DE0806"/>
<rect x="220.46" y="192.51" width="6.48" height="6.88" fill="#FF5A5A"/>
<rect x="226.94" y="192.51" width="6.48" height="6.88" fill="#FF8989"/>
<rect x="233.42" y="192.51" width="6.48" height="6.88" fill="#D8D4FF"/>
<rect x="239.90" y="192.51" width="6.48" height="6.88" fill="#FFC0E5"/>
<rect x="246.38" y="192.51" width="6.48" height="6.88" fill="#4000C2"/>
<rect x="252.86" y="192.51" width="6.48" height="6.88" fill="#4000C2"/>
<rect x="207.50" y="199.39" width="6.48" height="6.88" fill="#FFC0E5"/>
<rect x="213.98" y="199.39" width="6.48" height="6.88" fill="#DE0806"/>
<rect x="220.46" y="199.39" width="6.48" height="6.88" fill="#FFC0E5"/>
<rect x="226.94" y="199.39" width="6.48" height="6.88" fill="#FF8989"/>
<rect x="233.42" y="199.39" width="6.48" height="6.88" fill="#8888FF"/>
<rect x="239.90" y="199.39" width="6.48" height="6.88" fill="#FF8989"/>
<rect x="246.38" y="199.39" width="6.48" height="6.88" fill="#4000C2"/>
<rect x="252.86" y="199.39" width="6.48" height="6.88" fill="#4000C2"/>
<rect x="207.50" y="206.28" width="6.48" height="6.88" fill="#FF8989"/>
<rect x="213.98" y="206.28" width="6.48" height="6.88" fill="#EF4040"/>
<rect x="220.46" y="206.28" width="6.48" height="6.88" fill="#DE0806"/>
<rect x="226.94" y="206.28" width="6.48" height="6.88" fill="#FF8989"/>
<rect x="233.42" y="206.28" width="6.48" height="6.88" fill="#4000C2"/>
<rect x="239.90" y="206.28" width="6.48" height="6.88" fill="#8888FF"/>
<rect x="246.38" y="206.28" width="6.48" height="6.88" fill="#4000C2"/>
<rect x="252.86" y="206.28" width="6.48" height="6.88" fill="#2700D1"/>
<rect x="207.50" y="213.16" width="6.48" height="6.88" fill="#FFC0E5"/>
<rect x="213.98" y="213.16" width="6.48" height="6.88" fill="#DE0806"/>
<rect x="220.46" y="213.16" width="6.48" height="6.88" fill="#D8D4FF"/>
<rect x="226.94" y="213.16" width="6.48" height="6.88" fill="#FFC0E5"/>
<rect x="233.42" y="213.16" width="6.48" height="6.88" fill="#D8D4FF"/>
<rect x="239.90" y="213.16" width="6.48" height="6.88" fill="#FFC0E5"/>
<rect x="246.38" y="213.16" width="6.48" height="6.88" fill="#4000C2"/>
<rect x="252.86" y="213.16" width="6.48" height="6.88" fill="#2700D1"/>
<rect x="207.50" y="220.05" width="6.48" height="6.88" fill="#DE0806"/>
<rect x="213.98" y="220.05" width="6.48" height="6.88" fill="#8888FF"/>
<rect x="220.46" y="220.05" width="6.48" height="6.88" fill="#D8D4FF"/>
<rect x="226.94" y="220.05" width="6.48" height="6.88" fill="#DE0806"/>
<rect x="233.42" y="220.05" width="6.48" height="6.88" fill="#FF8989"/>
<rect x="239.90" y="220.05" width="6.48" height="6.88" fill="#4000C2"/>
<rect x="246.38" y="220.05" width="6.48" height="6.88" fill="#4000C2"/>
<rect x="252.86" y="220.05" width="6.48" height="6.88" fill="#D8D4FF"/>
<rect x="207.50" y="226.94" width="6.48" height="6.88" fill="#FF5A5A"/>
<rect x="213.98" y="226.94" width="6.48" height="6.88" fill="#6B58EF"/>
<rect x="220.46" y="226.94" width="6.48" height="6.88" fill="#DE0806"/>
<rect x="226.94" y="226.94" width="6.48" height="6.88" fill="#FF8989"/>
<rect x="233.42" y="226.94" width="6.48" height="6.88" fill="#4000C2"/>
<rect x="239.90" y="226.94" width="6.48" height="6.88" fill="#4000C2"/>
<rect x="246.38" y="226.94" width="6.48" height="6.88" fill="#8888FF"/>
<rect x="252.86" y="226.94" width="6.48" height="6.88" fill="#4000C2"/>
<rect x="207.50" y="233.82" width="6.48" height="6.88" fill="#FF5A5A"/>
<rect x="213.98" y="233.82" width="6.48" height="6.88" fill="#FFC0E5"/>
<rect x="220.46" y="233.82" width="6.48" height="6.88" fill="#D8D4FF"/>
<rect x="226.94" y="233.82" width="6.48" height="6.88" fill="#DE0806"/>
<rect x="233.42" y="233.82" width="6.48" height="6.88" fill="#D8D4FF"/>
<rect x="239.90" y="233.82" width="6.48" height="6.88" fill="#6B58EF"/>
<rect x="246.38" y="233.82" width="6.48" height="6.88" fill="#4000C2"/>
<rect x="252.86" y="233.82" width="6.48" height="6.88" fill="#D8D4FF"/>
<rect x="207.50" y="240.70" width="6.48" height="6.88" fill="#DE0806"/>
<rect x="213.98" y="240.70" width="6.48" height="6.88" fill="#DE0806"/>
<rect x="220.46" y="240.70" width="6.48" height="6.88" fill="#FF5A5A"/>
<rect x="226.94" y="240.70" width="6.48" height="6.88" fill="#FF8989"/>
<rect x="233.42" y="240.70" width="6.48" height="6.88" fill="#FF8989"/>
<rect x="239.90" y="240.70" width="6.48" height="6.88" fill="#6B58EF"/>
<rect x="246.38" y="240.70" width="6.48" height="6.88" fill="#2700D1"/>
<rect x="252.86" y="240.70" width="6.48" height="6.88" fill="#4000C2"/>
<rect x="207.50" y="247.59" width="6.48" height="6.88" fill="#FF5A5A"/>
<rect x="213.98" y="247.59" width="6.48" height="6.88" fill="#8888FF"/>
<rect x="220.46" y="247.59" width="6.48" height="6.88" fill="#DE0806"/>
<rect x="226.94" y="247.59" width="6.48" height="6.88" fill="#FFC0E5"/>
<rect x="233.42" y="247.59" width="6.48" height="6.88" fill="#8888FF"/>
<rect x="239.90" y="247.59" width="6.48" height="6.88" fill="#4000C2"/>
<rect x="246.38" y="247.59" width="6.48" height="6.88" fill="#6B58EF"/>
<rect x="252.86" y="247.59" width="6.48" height="6.88" fill="#4000C2"/>
<rect x="207.50" y="254.47" width="6.48" height="6.88" fill="#FFC0E5"/>
<rect x="213.98" y="254.47" width="6.48" height="6.88" fill="#DE0806"/>
<rect x="220.46" y="254.47" width="6.48" height="6.88" fill="#FF8989"/>
<rect x="226.94" y="254.47" width="6.48" height="6.88" fill="#D8D4FF"/>
<rect x="233.42" y="254.47" width="6.48" height="6.88" fill="#D8D4FF"/>
<rect x="239.90" y="254.47" width="6.48" height="6.88" fill="#FFC0E5"/>
<rect x="246.38" y="254.47" width="6.48" height="6.88" fill="#D8D4FF"/>
<rect x="252.86" y="254.47" width="6.48" height="6.88" fill="#4000C2"/>
<rect x="207.50" y="261.36" width="6.48" height="6.88" fill="#FF5A5A"/>
<rect x="213.98" y="261.36" width="6.48" height="6.88" fill="#D8D4FF"/>
<rect x="220.46" y="261.36" width="6.48" height="6.88" fill="#6B58EF"/>
<rect x="226.94" y="261.36" width="6.48" height="6.88" fill="#DE0806"/>
<rect x="233.42" y="261.36" width="6.48" height="6.88" fill="#D8D4FF"/>
<rect x="239.90" y="261.36" width="6.48" height="6.88" fill="#8888FF"/>
<rect x="246.38" y="261.36" width="6.48" height="6.88" fill="#4000C2"/>
<rect x="252.86" y="261.36" width="6.48" height="6.88" fill="#FF8989"/>
<rect x="207.50" y="268.25" width="6.48" height="6.88" fill="#FF8989"/>
<rect x="213.98" y="268.25" width="6.48" height="6.88" fill="#DE0806"/>
<rect x="220.46" y="268.25" width="6.48" height="6.88" fill="#6B58EF"/>
<rect x="226.94" y="268.25" width="6.48" height="6.88" fill="#D8D4FF"/>
<rect x="233.42" y="268.25" width="6.48" height="6.88" fill="#D8D4FF"/>
<rect x="239.90" y="268.25" width="6.48" height="6.88" fill="#FF8989"/>
<rect x="246.38" y="268.25" width="6.48" height="6.88" fill="#4000C2"/>
<rect x="252.86" y="268.25" width="6.48" height="6.88" fill="#6B58EF"/>
<rect x="207.50" y="275.13" width="6.48" height="6.88" fill="#FF8989"/>
<rect x="213.98" y="275.13" width="6.48" height="6.88" fill="#FF8989"/>
<rect x="220.46" y="275.13" width="6.48" height="6.88" fill="#DE0806"/>
<rect x="226.94" y="275.13" width="6.48" height="6.88" fill="#FF5A5A"/>
<rect x="233.42" y="275.13" width="6.48" height="6.88" fill="#D8D4FF"/>
<rect x="239.90" y="275.13" width="6.48" height="6.88" fill="#8888FF"/>
<rect x="246.38" y="275.13" width="6.48" height="6.88" fill="#2700D1"/>
<rect x="252.86" y="275.13" width="6.48" height="6.88" fill="#4000C2"/>
<rect x="207.50" y="282.01" width="6.48" height="6.88" fill="#FFC0E5"/>
<rect x="213.98" y="282.01" width="6.48" height="6.88" fill="#DE0806"/>
<rect x="220.46" y="282.01" width="6.48" height="6.88" fill="#FF8989"/>
<rect x="226.94" y="282.01" width="6.48" height="6.88" fill="#FF8989"/>
<rect x="233.42" y="282.01" width="6.48" height="6.88" fill="#8888FF"/>
<rect x="239.90" y="282.01" width="6.48" height="6.88" fill="#8888FF"/>
<rect x="246.38" y="282.01" width="6.48" height="6.88" fill="#4000C2"/>
<rect x="252.86" y="282.01" width="6.48" height="6.88" fill="#2700D1"/>
<rect x="207.50" y="288.90" width="6.48" height="6.88" fill="#FFC0E5"/>
<rect x="213.98" y="288.90" width="6.48" height="6.88" fill="#FF5A5A"/>
<rect x="220.46" y="288.90" width="6.48" height="6.88" fill="#D8D4FF"/>
<rect x="226.94" y="288.90" width="6.48" height="6.88" fill="#DE0806"/>
<rect x="233.42" y="288.90" width="6.48" height="6.88" fill="#D8D4FF"/>
<rect x="239.90" y="288.90" width="6.48" height="6.88" fill="#D8D4FF"/>
<rect x="246.38" y="288.90" width="6.48" height="6.88" fill="#4000C2"/>
<rect x="252.86" y="288.90" width="6.48" height="6.88" fill="#D8D4FF"/>
<rect x="207.50" y="295.78" width="6.48" height="6.88" fill="#FF8989"/>
<rect x="213.98" y="295.78" width="6.48" height="6.88" fill="#FF8989"/>
<rect x="220.46" y="295.78" width="6.48" height="6.88" fill="#DE0806"/>
<rect x="226.94" y="295.78" width="6.48" height="6.88" fill="#D8D4FF"/>
<rect x="233.42" y="295.78" width="6.48" height="6.88" fill="#D8D4FF"/>
<rect x="239.90" y="295.78" width="6.48" height="6.88" fill="#6B58EF"/>
<rect x="246.38" y="295.78" width="6.48" height="6.88" fill="#6B58EF"/>
<rect x="252.86" y="295.78" width="6.48" height="6.88" fill="#4000C2"/>
<rect x="207.50" y="302.67" width="6.48" height="6.88" fill="#D8D4FF"/>
<rect x="213.98" y="302.67" width="6.48" height="6.88" fill="#D8D4FF"/>
<rect x="220.46" y="302.67" width="6.48" height="6.88" fill="#FF8989"/>
<rect x="226.94" y="302.67" width="6.48" height="6.88" fill="#DE0806"/>
<rect x="233.42" y="302.67" width="6.48" height="6.88" fill="#4000C2"/>
<rect x="239.90" y="302.67" width="6.48" height="6.88" fill="#6B58EF"/>
<rect x="246.38" y="302.67" width="6.48" height="6.88" fill="#4000C2"/>
<rect x="252.86" y="302.67" width="6.48" height="6.88" fill="#FF8989"/>
<rect x="207.50" y="309.55" width="6.48" height="6.88" fill="#FF5A5A"/>
<rect x="213.98" y="309.55" width="6.48" height="6.88" fill="#FF8989"/>
<rect x="220.46" y="309.55" width="6.48" height="6.88" fill="#D8D4FF"/>
<rect x="226.94" y="309.55" width="6.48" height="6.88" fill="#DE0806"/>
<rect x="233.42" y="309.55" width="6.48" height="6.88" fill="#FFC0E5"/>
<rect x="239.90" y="309.55" width="6.48" height="6.88" fill="#8888FF"/>
<rect x="246.38" y="309.55" width="6.48" height="6.88" fill="#4000C2"/>
<rect x="252.86" y="309.55" width="6.48" height="6.88" fill="#FFC0E5"/>
<rect x="207.50" y="316.44" width="6.48" height="6.88" fill="#FF8989"/>
<rect x="213.98" y="316.44" width="6.48" height="6.88" fill="#FF8989"/>
<rect x="220.46" y="316.44" width="6.48" height="6.88" fill="#D8D4FF"/>
<rect x="226.94" y="316.44" width="6.48" height="6.88" fill="#DE0806"/>
<rect x="233.42" y="316.44" width="6.48" height="6.88" fill="#6B58EF"/>
<rect x="239.90" y="316.44" width="6.48" height="6.88" fill="#6B58EF"/>
<rect x="246.38" y="316.44" width="6.48" height="6.88" fill="#4000C2"/>
<rect x="252.86" y="316.44" width="6.48" height="6.88" fill="#FFC0E5"/>
<rect x="207.50" y="323.32" width="6.48" height="6.88" fill="#DE0806"/>
<rect x="213.98" y="323.32" width="6.48" height="6.88" fill="#8888FF"/>
<rect x="220.46" y="323.32" width="6.48" height="6.88" fill="#D8D4FF"/>
<rect x="226.94" y="323.32" width="6.48" height="6.88" fill="#FF8989"/>
<rect x="233.42" y="323.32" width="6.48" height="6.88" fill="#FF8989"/>
<rect x="239.90" y="323.32" width="6.48" height="6.88" fill="#2700D1"/>
<rect x="246.38" y="323.32" width="6.48" height="6.88" fill="#4000C2"/>
<rect x="252.86" y="323.32" width="6.48" height="6.88" fill="#FFC0E5"/>
<rect x="207.50" y="330.21" width="6.48" height="6.88" fill="#DE0806"/>
<rect x="213.98" y="330.21" width="6.48" height="6.88" fill="#D8D4FF"/>
<rect x="220.46" y="330.21" width="6.48" height="6.88" fill="#D8D4FF"/>
<rect x="226.94" y="330.21" width="6.48" height="6.88" fill="#DE0806"/>
<rect x="233.42" y="330.21" width="6.48" height="6.88" fill="#D8D4FF"/>
<rect x="239.90" y="330.21" width="6.48" height="6.88" fill="#2700D1"/>
<rect x="246.38" y="330.21" width="6.48" height="6.88" fill="#4000C2"/>
<rect x="252.86" y="330.21" width="6.48" height="6.88" fill="#FF8989"/>
<rect x="207.50" y="337.09" width="6.48" height="6.88" fill="#DE0806"/>
<rect x="213.98" y="337.09" width="6.48" height="6.88" fill="#FFC0E5"/>
<rect x="220.46" y="337.09" width="6.48" height="6.88" fill="#FF8989"/>
<rect x="226.94" y="337.09" width="6.48" height="6.88" fill="#DE0806"/>
<rect x="233.42" y="337.09" width="6.48" height="6.88" fill="#FF8989"/>
<rect x="239.90" y="337.09" width="6.48" height="6.88" fill="#6B58EF"/>
<rect x="246.38" y="337.09" width="6.48" height="6.88" fill="#4000C2"/>
<rect x="252.86" y="337.09" width="6.48" height="6.88" fill="#D8D4FF"/>
<rect x="207.50" y="343.98" width="6.48" height="6.88" fill="#DE0806"/>
<rect x="213.98" y="343.98" width="6.48" height="6.88" fill="#FFC0E5"/>
<rect x="220.46" y="343.98" width="6.48" height="6.88" fill="#D8D4FF"/>
<rect x="226.94" y="343.98" width="6.48" height="6.88" fill="#FF8989"/>
<rect x="233.42" y="343.98" width="6.48" height="6.88" fill="#FF8989"/>
<rect x="239.90" y="343.98" width="6.48" height="6.88" fill="#D8D4FF"/>
<rect x="246.38" y="343.98" width="6.48" height="6.88" fill="#4000C2"/>
<rect x="252.86" y="343.98" width="6.48" height="6.88" fill="#6B58EF"/>
<rect x="207.50" y="350.87" width="6.48" height="6.88" fill="#FF8989"/>
<rect x="213.98" y="350.87" width="6.48" height="6.88" fill="#DE0806"/>
<rect x="220.46" y="350.87" width="6.48" height="6.88" fill="#FF8989"/>
<rect x="226.94" y="350.87" width="6.48" height="6.88" fill="#DE0806"/>
<rect x="233.42" y="350.87" width="6.48" height="6.88" fill="#D8D4FF"/>
<rect x="239.90" y="350.87" width="6.48" height="6.88" fill="#FFC0E5"/>
<rect x="246.38" y="350.87" width="6.48" height="6.88" fill="#4000C2"/>
<rect x="252.86" y="350.87" width="6.48" height="6.88" fill="#8888FF"/>
<rect x="207.50" y="357.75" width="6.48" height="6.88" fill="#FF5A5A"/>
<rect x="213.98" y="357.75" width="6.48" height="6.88" fill="#FF5A5A"/>
<rect x="220.46" y="357.75" width="6.48" height="6.88" fill="#DE0806"/>
<rect x="226.94" y="357.75" width="6.48" height="6.88" fill="#D8D4FF"/>
<rect x="233.42" y="357.75" width="6.48" height="6.88" fill="#D8D4FF"/>
<rect x="239.90" y="357.75" width="6.48" height="6.88" fill="#8888FF"/>
<rect x="246.38" y="357.75" width="6.48" height="6.88" fill="#4000C2"/>
<rect x="252.86" y="357.75" width="6.48" height="6.88" fill="#2700D1"/>
<rect x="207.50" y="364.63" width="6.48" height="6.88" fill="#DE0806"/>
<rect x="213.98" y="364.63" width="6.48" height="6.88" fill="#DE0806"/>
<rect x="220.46" y="364.63" width="6.48" height="6.88" fill="#D8D4FF"/>
<rect x="226.94" y="364.63" width="6.48" height="6.88" fill="#EF4040"/>
<rect x="233.42" y="364.63" width="6.48" height="6.88" fill="#D8D4FF"/>
<rect x="239.90" y="364.63" width="6.48" height="6.88" fill="#D8D4FF"/>
<rect x="246.38" y="364.63" width="6.48" height="6.88" fill="#4000C2"/>
<rect x="252.86" y="364.63" width="6.48" height="6.88" fill="#8888FF"/>
<rect x="207.50" y="371.52" width="6.48" height="6.88" fill="#FF8989"/>
<rect x="213.98" y="371.52" width="6.48" height="6.88" fill="#DE0806"/>
<rect x="220.46" y="371.52" width="6.48" height="6.88" fill="#D8D4FF"/>
<rect x="226.94" y="371.52" width="6.48" height="6.88" fill="#FFC0E5"/>
<rect x="233.42" y="371.52" width="6.48" height="6.88" fill="#FFC0E5"/>
<rect x="239.90" y="371.52" width="6.48" height="6.88" fill="#D8D4FF"/>
<rect x="246.38" y="371.52" width="6.48" height="6.88" fill="#4000C2"/>
<rect x="252.86" y="371.52" width="6.48" height="6.88" fill="#D8D4FF"/>
<rect x="207.50" y="378.40" width="6.48" height="6.88" fill="#DE0806"/>
<rect x="213.98" y="378.40" width="6.48" height="6.88" fill="#FF5A5A"/>
<rect x="220.46" y="378.40" width="6.48" height="6.88" fill="#FF8989"/>
<rect x="226.94" y="378.40" width="6.48" height="6.88" fill="#D8D4FF"/>
<rect x="233.42" y="378.40" width="6.48" height="6.88" fill="#FF8989"/>
<rect x="239.90" y="378.40" width="6.48" height="6.88" fill="#8888FF"/>
<rect x="246.38" y="378.40" width="6.48" height="6.88" fill="#4000C2"/>
<rect x="252.86" y="378.40" width="6.48" height="6.88" fill="#2700D1"/>
<rect x="207.50" y="385.29" width="6.48" height="6.88" fill="#D8D4FF"/>
<rect x="213.98" y="385.29" width="6.48" height="6.88" fill="#FF8989"/>
<rect x="220.46" y="385.29" width="6.48" height="6.88" fill="#FF8989"/>
<rect x="226.94" y="385.29" width="6.48" height="6.88" fill="#DE0806"/>
<rect x="233.42" y="385.29" width="6.48" height="6.88" fill="#6B58EF"/>
<rect x="239.90" y="385.29" width="6.48" height="6.88" fill="#6B58EF"/>
<rect x="246.38" y="385.29" width="6.48" height="6.88" fill="#4000C2"/>
<rect x="252.86" y="385.29" width="6.48" height="6.88" fill="#FFC0E5"/>
<rect x="207.50" y="392.17" width="6.48" height="6.88" fill="#D8D4FF"/>
<rect x="213.98" y="392.17" width="6.48" height="6.88" fill="#FF8989"/>
<rect x="220.46" y="392.17" width="6.48" height="6.88" fill="#D8D4FF"/>
<rect x="226.94" y="392.17" width="6.48" height="6.88" fill="#DE0806"/>
<rect x="233.42" y="392.17" width="6.48" height="6.88" fill="#8888FF"/>
<rect x="239.90" y="392.17" width="6.48" height="6.88" fill="#D8D4FF"/>
<rect x="246.38" y="392.17" width="6.48" height="6.88" fill="#4000C2"/>
<rect x="252.86" y="392.17" width="6.48" height="6.88" fill="#FF8989"/>
<rect x="207.50" y="399.06" width="6.48" height="6.88" fill="#DE0806"/>
<rect x="213.98" y="399.06" width="6.48" height="6.88" fill="#FF8989"/>
<rect x="220.46" y="399.06" width="6.48" height="6.88" fill="#D8D4FF"/>
<rect x="226.94" y="399.06" width="6.48" height="6.88" fill="#FFC0E5"/>
<rect x="233.42" y="399.06" width="6.48" height="6.88" fill="#FF5A5A"/>
<rect x="239.90" y="399.06" width="6.48" height="6.88" fill="#D8D4FF"/>
<rect x="246.38" y="399.06" width="6.48" height="6.88" fill="#4000C2"/>
<rect x="252.86" y="399.06" width="6.48" height="6.88" fill="#2700D1"/>
<rect x="207.50" y="405.94" width="6.48" height="6.88" fill="#FF8989"/>
<rect x="213.98" y="405.94" width="6.48" height="6.88" fill="#DE0806"/>
<rect x="220.46" y="405.94" width="6.48" height="6.88" fill="#FF8989"/>
<rect x="226.94" y="405.94" width="6.48" height="6.88" fill="#D8D4FF"/>
<rect x="233.42" y="405.94" width="6.48" height="6.88" fill="#8888FF"/>
<rect x="239.90" y="405.94" width="6.48" height="6.88" fill="#D8D4FF"/>
<rect x="246.38" y="405.94" width="6.48" height="6.88" fill="#4000C2"/>
<rect x="252.86" y="405.94" width="6.48" height="6.88" fill="#8888FF"/>
<rect x="207.50" y="412.83" width="6.48" height="6.88" fill="#D8D4FF"/>
<rect x="213.98" y="412.83" width="6.48" height="6.88" fill="#DE0806"/>
<rect x="220.46" y="412.83" width="6.48" height="6.88" fill="#6B58EF"/>
<rect x="226.94" y="412.83" width="6.48" height="6.88" fill="#FF8989"/>
<rect x="233.42" y="412.83" width="6.48" height="6.88" fill="#8888FF"/>
<rect x="239.90" y="412.83" width="6.48" height="6.88" fill="#FF5A5A"/>
<rect x="246.38" y="412.83" width="6.48" height="6.88" fill="#4000C2"/>
<rect x="252.86" y="412.83" width="6.48" height="6.88" fill="#D8D4FF"/>
<rect x="207.50" y="419.71" width="6.48" height="6.88" fill="#DE0806"/>
<rect x="213.98" y="419.71" width="6.48" height="6.88" fill="#D8D4FF"/>
<rect x="220.46" y="419.71" width="6.48" height="6.88" fill="#FFC0E5"/>
<rect x="226.94" y="419.71" width="6.48" height="6.88" fill="#FFC0E5"/>
<rect x="233.42" y="419.71" width="6.48" height="6.88" fill="#FF8989"/>
<rect x="239.90" y="419.71" width="6.48" height="6.88" fill="#4000C2"/>
<rect x="246.38" y="419.71" width="6.48" height="6.88" fill="#4000C2"/>
<rect x="252.86" y="419.71" width="6.48" height="6.88" fill="#8888FF"/>
<rect x="207.50" y="426.60" width="6.48" height="6.88" fill="#FF8989"/>
<rect x="213.98" y="426.60" width="6.48" height="6.88" fill="#FF8989"/>
<rect x="220.46" y="426.60" width="6.48" height="6.88" fill="#FF8989"/>
<rect x="226.94" y="426.60" width="6.48" height="6.88" fill="#DE0806"/>
<rect x="233.42" y="426.60" width="6.48" height="6.88" fill="#D8D4FF"/>
<rect x="239.90" y="426.60" width="6.48" height="6.88" fill="#D8D4FF"/>
<rect x="246.38" y="426.60" width="6.48" height="6.88" fill="#4000C2"/>
<rect x="252.86" y="426.60" width="6.48" height="6.88" fill="#FF8989"/>
<rect x="207.50" y="433.48" width="6.48" height="6.88" fill="#DE0806"/>
<rect x="213.98" y="433.48" width="6.48" height="6.88" fill="#D8D4FF"/>
<rect x="220.46" y="433.48" width="6.48" height="6.88" fill="#D8D4FF"/>
<rect x="226.94" y="433.48" width="6.48" height="6.88" fill="#DE0806"/>
<rect x="233.42" y="433.48" width="6.48" height="6.88" fill="#FF8989"/>
<rect x="239.90" y="433.48" width="6.48" height="6.88" fill="#2700D1"/>
<rect x="246.38" y="433.48" width="6.48" height="6.88" fill="#4000C2"/>
<rect x="252.86" y="433.48" width="6.48" height="6.88" fill="#FF8989"/>
<rect x="207.50" y="440.37" width="6.48" height="6.88" fill="#8888FF"/>
<rect x="213.98" y="440.37" width="6.48" height="6.88" fill="#DE0806"/>
<rect x="220.46" y="440.37" width="6.48" height="6.88" fill="#FF8989"/>
<rect x="226.94" y="440.37" width="6.48" height="6.88" fill="#D8D4FF"/>
<rect x="233.42" y="440.37" width="6.48" height="6.88" fill="#2700D1"/>
<rect x="239.90" y="440.37" width="6.48" height="6.88" fill="#FF8989"/>
<rect x="246.38" y="440.37" width="6.48" height="6.88" fill="#D8D4FF"/>
<rect x="252.86" y="440.37" width="6.48" height="6.88" fill="#4000C2"/>
<rect x="207.50" y="447.25" width="6.48" height="6.88" fill="#FFC0E5"/>
<rect x="213.98" y="447.25" width="6.48" height="6.88" fill="#6B58EF"/>
<rect x="220.46" y="447.25" width="6.48" height="6.88" fill="#DE0806"/>
<rect x="226.94" y="447.25" width="6.48" height="6.88" fill="#FF5A5A"/>
<rect x="233.42" y="447.25" width="6.48" height="6.88" fill="#8888FF"/>
<rect x="239.90" y="447.25" width="6.48" height="6.88" fill="#4000C2"/>
<rect x="246.38" y="447.25" width="6.48" height="6.88" fill="#FFC0E5"/>
<rect x="252.86" y="447.25" width="6.48" height="6.88" fill="#8888FF"/>
<rect x="207.50" y="454.14" width="6.48" height="6.88" fill="#DE0806"/>
<rect x="213.98" y="454.14" width="6.48" height="6.88" fill="#D8D4FF"/>
<rect x="220.46" y="454.14" width="6.48" height="6.88" fill="#FF8989"/>
<rect x="226.94" y="454.14" width="6.48" height="6.88" fill="#FFC0E5"/>
<rect x="233.42" y="454.14" width="6.48" height="6.88" fill="#DE0806"/>
<rect x="239.90" y="454.14" width="6.48" height="6.88" fill="#4000C2"/>
<rect x="246.38" y="454.14" width="6.48" height="6.88" fill="#4000C2"/>
<rect x="252.86" y="454.14" width="6.48" height="6.88" fill="#4000C2"/>
<rect x="207.50" y="461.02" width="6.48" height="6.88" fill="#FF5A5A"/>
<rect x="213.98" y="461.02" width="6.48" height="6.88" fill="#DE0806"/>
<rect x="220.46" y="461.02" width="6.48" height="6.88" fill="#6B58EF"/>
<rect x="226.94" y="461.02" width="6.48" height="6.88" fill="#FF8989"/>
<rect x="233.42" y="461.02" width="6.48" height="6.88" fill="#FF8989"/>
<rect x="239.90" y="461.02" width="6.48" height="6.88" fill="#FF8989"/>
<rect x="246.38" y="461.02" width="6.48" height="6.88" fill="#4000C2"/>
<rect x="252.86" y="461.02" width="6.48" height="6.88" fill="#4000C2"/>
<rect x="207.50" y="467.91" width="6.48" height="6.88" fill="#2700D1"/>
<rect x="213.98" y="467.91" width="6.48" height="6.88" fill="#6B58EF"/>
<rect x="220.46" y="467.91" width="6.48" height="6.88" fill="#4000C2"/>
<rect x="226.94" y="467.91" width="6.48" height="6.88" fill="#8888FF"/>
<rect x="233.42" y="467.91" width="6.48" height="6.88" fill="#FF5A5A"/>
<rect x="239.90" y="467.91" width="6.48" height="6.88" fill="#FF5A5A"/>
<rect x="246.38" y="467.91" width="6.48" height="6.88" fill="#DE0806"/>
<rect x="252.86" y="467.91" width="6.48" height="6.88" fill="#FFC0E5"/>
<rect x="207.50" y="474.79" width="6.48" height="6.88" fill="#FFC0E5"/>
<rect x="213.98" y="474.79" width="6.48" height="6.88" fill="#4000C2"/>
<rect x="220.46" y="474.79" width="6.48" height="6.88" fill="#4000C2"/>
<rect x="226.94" y="474.79" width="6.48" height="6.88" fill="#FF5A5A"/>
<rect x="233.42" y="474.79" width="6.48" height="6.88" fill="#FF5A5A"/>
<rect x="239.90" y="474.79" width="6.48" height="6.88" fill="#4000C2"/>
<rect x="246.38" y="474.79" width="6.48" height="6.88" fill="#D8D4FF"/>
<rect x="252.86" y="474.79" width="6.48" height="6.88" fill="#DE0806"/>
<rect x="207.50" y="481.68" width="6.48" height="6.88" fill="#FFC0E5"/>
<rect x="213.98" y="481.68" width="6.48" height="6.88" fill="#D8D4FF"/>
<rect x="220.46" y="481.68" width="6.48" height="6.88" fill="#4000C2"/>
<rect x="226.94" y="481.68" width="6.48" height="6.88" fill="#4000C2"/>
<rect x="233.42" y="481.68" width="6.48" height="6.88" fill="#DE0806"/>
<rect x="239.90" y="481.68" width="6.48" height="6.88" fill="#FFC0E5"/>
<rect x="246.38" y="481.68" width="6.48" height="6.88" fill="#D8D4FF"/>
<rect x="252.86" y="481.68" width="6.48" height="6.88" fill="#FFC0E5"/>
<rect x="207.50" y="488.56" width="6.48" height="6.88" fill="#FF8989"/>
<rect x="213.98" y="488.56" width="6.48" height="6.88" fill="#4000C2"/>
<rect x="220.46" y="488.56" width="6.48" height="6.88" fill="#4000C2"/>
<rect x="226.94" y="488.56" width="6.48" height="6.88" fill="#6B58EF"/>
<rect x="233.42" y="488.56" width="6.48" height="6.88" fill="#DE0806"/>
<rect x="239.90" y="488.56" width="6.48" height="6.88" fill="#D8D4FF"/>
<rect x="246.38" y="488.56" width="6.48" height="6.88" fill="#FF8989"/>
<rect x="252.86" y="488.56" width="6.48" height="6.88" fill="#DE0806"/>
<rect x="207.50" y="495.45" width="6.48" height="6.88" fill="#4000C2"/>
<rect x="213.98" y="495.45" width="6.48" height="6.88" fill="#4000C2"/>
<rect x="220.46" y="495.45" width="6.48" height="6.88" fill="#4000C2"/>
<rect x="226.94" y="495.45" width="6.48" height="6.88" fill="#FF5A5A"/>
<rect x="233.42" y="495.45" width="6.48" height="6.88" fill="#D8D4FF"/>
<rect x="239.90" y="495.45" width="6.48" height="6.88" fill="#8888FF"/>
<rect x="246.38" y="495.45" width="6.48" height="6.88" fill="#D8D4FF"/>
<rect x="252.86" y="495.45" width="6.48" height="6.88" fill="#DE0806"/>
<rect x="207.50" y="502.33" width="6.48" height="6.88" fill="#4000C2"/>
<rect x="213.98" y="502.33" width="6.48" height="6.88" fill="#8888FF"/>
<rect x="220.46" y="502.33" width="6.48" height="6.88" fill="#D8D4FF"/>
<rect x="226.94" y="502.33" width="6.48" height="6.88" fill="#4000C2"/>
<rect x="233.42" y="502.33" width="6.48" height="6.88" fill="#6B58EF"/>
<rect x="239.90" y="502.33" width="6.48" height="6.88" fill="#FF8989"/>
<rect x="246.38" y="502.33" width="6.48" height="6.88" fill="#DE0806"/>
<rect x="252.86" y="502.33" width="6.48" height="6.88" fill="#FF5A5A"/>
<rect x="207.50" y="509.22" width="6.48" height="6.88" fill="#D8D4FF"/>
<rect x="213.98" y="509.22" width="6.48" height="6.88" fill="#2700D1"/>
<rect x="220.46" y="509.22" width="6.48" height="6.88" fill="#4000C2"/>
<rect x="226.94" y="509.22" width="6.48" height="6.88" fill="#8888FF"/>
<rect x="233.42" y="509.22" width="6.48" height="6.88" fill="#DE0806"/>
<rect x="239.90" y="509.22" width="6.48" height="6.88" fill="#8888FF"/>
<rect x="246.38" y="509.22" width="6.48" height="6.88" fill="#FF8989"/>
<rect x="252.86" y="509.22" width="6.48" height="6.88" fill="#FF8989"/>
<rect x="207.50" y="516.11" width="6.48" height="6.88" fill="#FFC0E5"/>
<rect x="213.98" y="516.11" width="6.48" height="6.88" fill="#D8D4FF"/>
<rect x="220.46" y="516.11" width="6.48" height="6.88" fill="#8888FF"/>
<rect x="226.94" y="516.11" width="6.48" height="6.88" fill="#4000C2"/>
<rect x="233.42" y="516.11" width="6.48" height="6.88" fill="#DE0806"/>
<rect x="239.90" y="516.11" width="6.48" height="6.88" fill="#FF5A5A"/>
<rect x="246.38" y="516.11" width="6.48" height="6.88" fill="#FF8989"/>
<rect x="252.86" y="516.11" width="6.48" height="6.88" fill="#2700D1"/>
<rect x="207.50" y="522.99" width="6.48" height="6.88" fill="#FF8989"/>
<rect x="213.98" y="522.99" width="6.48" height="6.88" fill="#4000C2"/>
<rect x="220.46" y="522.99" width="6.48" height="6.88" fill="#4000C2"/>
<rect x="226.94" y="522.99" width="6.48" height="6.88" fill="#8888FF"/>
<rect x="233.42" y="522.99" width="6.48" height="6.88" fill="#DE0806"/>
<rect x="239.90" y="522.99" width="6.48" height="6.88" fill="#2700D1"/>
<rect x="246.38" y="522.99" width="6.48" height="6.88" fill="#FF8989"/>
<rect x="252.86" y="522.99" width="6.48" height="6.88" fill="#FF5A5A"/>
<rect x="207.50" y="529.88" width="6.48" height="6.88" fill="#FF8989"/>
<rect x="213.98" y="529.88" width="6.48" height="6.88" fill="#4000C2"/>
<rect x="220.46" y="529.88" width="6.48" height="6.88" fill="#4000C2"/>
<rect x="226.94" y="529.88" width="6.48" height="6.88" fill="#6B58EF"/>
<rect x="233.42" y="529.88" width="6.48" height="6.88" fill="#DE0806"/>
<rect x="239.90" y="529.88" width="6.48" height="6.88" fill="#D8D4FF"/>
<rect x="246.38" y="529.88" width="6.48" height="6.88" fill="#FF8989"/>
<rect x="252.86" y="529.88" width="6.48" height="6.88" fill="#D8D4FF"/>
<rect x="207.50" y="536.76" width="6.48" height="6.88" fill="#FFC0E5"/>
<rect x="213.98" y="536.76" width="6.48" height="6.88" fill="#4000C2"/>
<rect x="220.46" y="536.76" width="6.48" height="6.88" fill="#8888FF"/>
<rect x="226.94" y="536.76" width="6.48" height="6.88" fill="#8888FF"/>
<rect x="233.42" y="536.76" width="6.48" height="6.88" fill="#DE0806"/>
<rect x="239.90" y="536.76" width="6.48" height="6.88" fill="#4000C2"/>
<rect x="246.38" y="536.76" width="6.48" height="6.88" fill="#DE0806"/>
<rect x="252.86" y="536.76" width="6.48" height="6.88" fill="#FF8989"/>
<rect x="207.50" y="543.64" width="6.48" height="6.88" fill="#FF8989"/>
<rect x="213.98" y="543.64" width="6.48" height="6.88" fill="#2700D1"/>
<rect x="220.46" y="543.64" width="6.48" height="6.88" fill="#4000C2"/>
<rect x="226.94" y="543.64" width="6.48" height="6.88" fill="#FFC0E5"/>
<rect x="233.42" y="543.64" width="6.48" height="6.88" fill="#FF5A5A"/>
<rect x="239.90" y="543.64" width="6.48" height="6.88" fill="#FF5A5A"/>
<rect x="246.38" y="543.64" width="6.48" height="6.88" fill="#8888FF"/>
<rect x="252.86" y="543.64" width="6.48" height="6.88" fill="#DE0806"/>
<rect x="207.50" y="550.53" width="6.48" height="6.88" fill="#4000C2"/>
<rect x="213.98" y="550.53" width="6.48" height="6.88" fill="#D8D4FF"/>
<rect x="220.46" y="550.53" width="6.48" height="6.88" fill="#4000C2"/>
<rect x="226.94" y="550.53" width="6.48" height="6.88" fill="#FFC0E5"/>
<rect x="233.42" y="550.53" width="6.48" height="6.88" fill="#FFC0E5"/>
<rect x="239.90" y="550.53" width="6.48" height="6.88" fill="#FF8989"/>
<rect x="246.38" y="550.53" width="6.48" height="6.88" fill="#DE0806"/>
<rect x="252.86" y="550.53" width="6.48" height="6.88" fill="#DE0806"/>
<rect x="207.50" y="557.41" width="6.48" height="6.88" fill="#D8D4FF"/>
<rect x="213.98" y="557.41" width="6.48" height="6.88" fill="#4000C2"/>
<rect x="220.46" y="557.41" width="6.48" height="6.88" fill="#D8D4FF"/>
<rect x="226.94" y="557.41" width="6.48" height="6.88" fill="#D8D4FF"/>
<rect x="233.42" y="557.41" width="6.48" height="6.88" fill="#FF5A5A"/>
<rect x="239.90" y="557.41" width="6.48" height="6.88" fill="#6B58EF"/>
<rect x="246.38" y="557.41" width="6.48" height="6.88" fill="#DE0806"/>
<rect x="252.86" y="557.41" width="6.48" height="6.88" fill="#FF5A5A"/>
<rect x="207.50" y="564.30" width="6.48" height="6.88" fill="#8888FF"/>
<rect x="213.98" y="564.30" width="6.48" height="6.88" fill="#4000C2"/>
<rect x="220.46" y="564.30" width="6.48" height="6.88" fill="#D8D4FF"/>
<rect x="226.94" y="564.30" width="6.48" height="6.88" fill="#2700D1"/>
<rect x="233.42" y="564.30" width="6.48" height="6.88" fill="#FFC0E5"/>
<rect x="239.90" y="564.30" width="6.48" height="6.88" fill="#D8D4FF"/>
<rect x="246.38" y="564.30" width="6.48" height="6.88" fill="#DE0806"/>
<rect x="252.86" y="564.30" width="6.48" height="6.88" fill="#FF8989"/>
<rect x="207.50" y="571.18" width="6.48" height="6.88" fill="#4000C2"/>
<rect x="213.98" y="571.18" width="6.48" height="6.88" fill="#D8D4FF"/>
<rect x="220.46" y="571.18" width="6.48" height="6.88" fill="#4000C2"/>
<rect x="226.94" y="571.18" width="6.48" height="6.88" fill="#FF8989"/>
<rect x="233.42" y="571.18" width="6.48" height="6.88" fill="#4000C2"/>
<rect x="239.90" y="571.18" width="6.48" height="6.88" fill="#FF8989"/>
<rect x="246.38" y="571.18" width="6.48" height="6.88" fill="#FFC0E5"/>
<rect x="252.86" y="571.18" width="6.48" height="6.88" fill="#DE0806"/>
<rect x="207.50" y="578.07" width="6.48" height="6.88" fill="#2700D1"/>
<rect x="213.98" y="578.07" width="6.48" height="6.88" fill="#4000C2"/>
<rect x="220.46" y="578.07" width="6.48" height="6.88" fill="#4000C2"/>
<rect x="226.94" y="578.07" width="6.48" height="6.88" fill="#FF5A5A"/>
<rect x="233.42" y="578.07" width="6.48" height="6.88" fill="#D8D4FF"/>
<rect x="239.90" y="578.07" width="6.48" height="6.88" fill="#6B58EF"/>
<rect x="246.38" y="578.07" width="6.48" height="6.88" fill="#FFC0E5"/>
<rect x="252.86" y="578.07" width="6.48" height="6.88" fill="#DE0806"/>
<rect x="207.50" y="584.95" width="6.48" height="6.88" fill="#DE0806"/>
<rect x="213.98" y="584.95" width="6.48" height="6.88" fill="#6B58EF"/>
<rect x="220.46" y="584.95" width="6.48" height="6.88" fill="#4000C2"/>
<rect x="226.94" y="584.95" width="6.48" height="6.88" fill="#6B58EF"/>
<rect x="233.42" y="584.95" width="6.48" height="6.88" fill="#DE0806"/>
<rect x="239.90" y="584.95" width="6.48" height="6.88" fill="#D8D4FF"/>
<rect x="246.38" y="584.95" width="6.48" height="6.88" fill="#6B58EF"/>
<rect x="252.86" y="584.95" width="6.48" height="6.88" fill="#FFC0E5"/>
<rect x="207.50" y="591.84" width="6.48" height="6.88" fill="#FFC0E5"/>
<rect x="213.98" y="591.84" width="6.48" height="6.88" fill="#8888FF"/>
<rect x="220.46" y="591.84" width="6.48" height="6.88" fill="#4000C2"/>
<rect x="226.94" y="591.84" width="6.48" height="6.88" fill="#FFC0E5"/>
<rect x="233.42" y="591.84" width="6.48" height="6.88" fill="#DE0806"/>
<rect x="239.90" y="591.84" width="6.48" height="6.88" fill="#FFC0E5"/>
<rect x="246.38" y="591.84" width="6.48" height="6.88" fill="#8888FF"/>
<rect x="252.86" y="591.84" width="6.48" height="6.88" fill="#FF8989"/>
<rect x="207.50" y="598.72" width="6.48" height="6.88" fill="#FF8989"/>
<rect x="213.98" y="598.72" width="6.48" height="6.88" fill="#4000C2"/>
<rect x="220.46" y="598.72" width="6.48" height="6.88" fill="#6B58EF"/>
<rect x="226.94" y="598.72" width="6.48" height="6.88" fill="#8888FF"/>
<rect x="233.42" y="598.72" width="6.48" height="6.88" fill="#FF5A5A"/>
<rect x="239.90" y="598.72" width="6.48" height="6.88" fill="#8888FF"/>
<rect x="246.38" y="598.72" width="6.48" height="6.88" fill="#DE0806"/>
<rect x="252.86" y="598.72" width="6.48" height="6.88" fill="#FF5A5A"/>
<rect x="207.50" y="605.61" width="6.48" height="6.88" fill="#FF5A5A"/>
<rect x="213.98" y="605.61" width="6.48" height="6.88" fill="#4000C2"/>
<rect x="220.46" y="605.61" width="6.48" height="6.88" fill="#4000C2"/>
<rect x="226.94" y="605.61" width="6.48" height="6.88" fill="#D8D4FF"/>
<rect x="233.42" y="605.61" width="6.48" height="6.88" fill="#DE0806"/>
<rect x="239.90" y="605.61" width="6.48" height="6.88" fill="#D8D4FF"/>
<rect x="246.38" y="605.61" width="6.48" height="6.88" fill="#FF5A5A"/>
<rect x="252.86" y="605.61" width="6.48" height="6.88" fill="#DE0806"/>
<rect x="207.50" y="612.49" width="6.48" height="6.88" fill="#FFC0E5"/>
<rect x="213.98" y="612.49" width="6.48" height="6.88" fill="#2700D1"/>
<rect x="220.46" y="612.49" width="6.48" height="6.88" fill="#4000C2"/>
<rect x="226.94" y="612.49" width="6.48" height="6.88" fill="#8888FF"/>
<rect x="233.42" y="612.49" width="6.48" height="6.88" fill="#DE0806"/>
<rect x="239.90" y="612.49" width="6.48" height="6.88" fill="#FF8989"/>
<rect x="246.38" y="612.49" width="6.48" height="6.88" fill="#FFC0E5"/>
<rect x="252.86" y="612.49" width="6.48" height="6.88" fill="#FF8989"/>
<rect x="207.50" y="619.38" width="6.48" height="6.88" fill="#D8D4FF"/>
<rect x="213.98" y="619.38" width="6.48" height="6.88" fill="#4000C2"/>
<rect x="220.46" y="619.38" width="6.48" height="6.88" fill="#D8D4FF"/>
<rect x="226.94" y="619.38" width="6.48" height="6.88" fill="#D8D4FF"/>
<rect x="233.42" y="619.38" width="6.48" height="6.88" fill="#FF8989"/>
<rect x="239.90" y="619.38" width="6.48" height="6.88" fill="#8888FF"/>
<rect x="246.38" y="619.38" width="6.48" height="6.88" fill="#FF5A5A"/>
<rect x="252.86" y="619.38" width="6.48" height="6.88" fill="#DE0806"/>
<rect x="207.50" y="626.26" width="6.48" height="6.88" fill="#FF5A5A"/>
<rect x="213.98" y="626.26" width="6.48" height="6.88" fill="#2700D1"/>
<rect x="220.46" y="626.26" width="6.48" height="6.88" fill="#4000C2"/>
<rect x="226.94" y="626.26" width="6.48" height="6.88" fill="#6B58EF"/>
<rect x="233.42" y="626.26" width="6.48" height="6.88" fill="#DE0806"/>
<rect x="239.90" y="626.26" width="6.48" height="6.88" fill="#FFC0E5"/>
<rect x="246.38" y="626.26" width="6.48" height="6.88" fill="#D8D4FF"/>
<rect x="252.86" y="626.26" width="6.48" height="6.88" fill="#D8D4FF"/>
<rect x="207.50" y="633.15" width="6.48" height="6.88" fill="#D8D4FF"/>
<rect x="213.98" y="633.15" width="6.48" height="6.88" fill="#4000C2"/>
<rect x="220.46" y="633.15" width="6.48" height="6.88" fill="#D8D4FF"/>
<rect x="226.94" y="633.15" width="6.48" height="6.88" fill="#D8D4FF"/>
<rect x="233.42" y="633.15" width="6.48" height="6.88" fill="#FF8989"/>
<rect x="239.90" y="633.15" width="6.48" height="6.88" fill="#6B58EF"/>
<rect x="246.38" y="633.15" width="6.48" height="6.88" fill="#DE0806"/>
<rect x="252.86" y="633.15" width="6.48" height="6.88" fill="#FF5A5A"/>
<rect x="207.50" y="640.03" width="6.48" height="6.88" fill="#FF5A5A"/>
<rect x="213.98" y="640.03" width="6.48" height="6.88" fill="#4000C2"/>
<rect x="220.46" y="640.03" width="6.48" height="6.88" fill="#D8D4FF"/>
<rect x="226.94" y="640.03" width="6.48" height="6.88" fill="#4000C2"/>
<rect x="233.42" y="640.03" width="6.48" height="6.88" fill="#DE0806"/>
<rect x="239.90" y="640.03" width="6.48" height="6.88" fill="#4000C2"/>
<rect x="246.38" y="640.03" width="6.48" height="6.88" fill="#FF5A5A"/>
<rect x="252.86" y="640.03" width="6.48" height="6.88" fill="#8888FF"/>
<rect x="207.50" y="646.92" width="6.48" height="6.88" fill="#FF8989"/>
<rect x="213.98" y="646.92" width="6.48" height="6.88" fill="#D8D4FF"/>
<rect x="220.46" y="646.92" width="6.48" height="6.88" fill="#2700D1"/>
<rect x="226.94" y="646.92" width="6.48" height="6.88" fill="#4000C2"/>
<rect x="233.42" y="646.92" width="6.48" height="6.88" fill="#DE0806"/>
<rect x="239.90" y="646.92" width="6.48" height="6.88" fill="#FFC0E5"/>
<rect x="246.38" y="646.92" width="6.48" height="6.88" fill="#FFC0E5"/>
<rect x="252.86" y="646.92" width="6.48" height="6.88" fill="#D8D4FF"/>
<rect x="207.50" y="653.80" width="6.48" height="6.88" fill="#FF8989"/>
<rect x="213.98" y="653.80" width="6.48" height="6.88" fill="#4000C2"/>
<rect x="220.46" y="653.80" width="6.48" height="6.88" fill="#4000C2"/>
<rect x="226.94" y="653.80" width="6.48" height="6.88" fill="#D8D4FF"/>
<rect x="233.42" y="653.80" width="6.48" height="6.88" fill="#DE0806"/>
<rect x="239.90" y="653.80" width="6.48" height="6.88" fill="#FFC0E5"/>
<rect x="246.38" y="653.80" width="6.48" height="6.88" fill="#8888FF"/>
<rect x="252.86" y="653.80" width="6.48" height="6.88" fill="#FFC0E5"/>
<rect x="207.50" y="660.69" width="6.48" height="6.88" fill="#D8D4FF"/>
<rect x="213.98" y="660.69" width="6.48" height="6.88" fill="#D8D4FF"/>
<rect x="220.46" y="660.69" width="6.48" height="6.88" fill="#FFC0E5"/>
<rect x="226.94" y="660.69" width="6.48" height="6.88" fill="#4000C2"/>
<rect x="233.42" y="660.69" width="6.48" height="6.88" fill="#FF8989"/>
<rect x="239.90" y="660.69" width="6.48" height="6.88" fill="#FF8989"/>
<rect x="246.38" y="660.69" width="6.48" height="6.88" fill="#DE0806"/>
<rect x="252.86" y="660.69" width="6.48" height="6.88" fill="#6B58EF"/>
<rect x="207.50" y="667.58" width="6.48" height="6.88" fill="#FF8989"/>
<rect x="213.98" y="667.58" width="6.48" height="6.88" fill="#2700D1"/>
<rect x="220.46" y="667.58" width="6.48" height="6.88" fill="#4000C2"/>
<rect x="226.94" y="667.58" width="6.48" height="6.88" fill="#D8D4FF"/>
<rect x="233.42" y="667.58" width="6.48" height="6.88" fill="#FF5A5A"/>
<rect x="239.90" y="667.58" width="6.48" height="6.88" fill="#D8D4FF"/>
<rect x="246.38" y="667.58" width="6.48" height="6.88" fill="#D8D4FF"/>
<rect x="252.86" y="667.58" width="6.48" height="6.88" fill="#DE0806"/>
<rect x="207.50" y="674.46" width="6.48" height="6.88" fill="#DE0806"/>
<rect x="213.98" y="674.46" width="6.48" height="6.88" fill="#4000C2"/>
<rect x="220.46" y="674.46" width="6.48" height="6.88" fill="#2700D1"/>
<rect x="226.94" y="674.46" width="6.48" height="6.88" fill="#FFC0E5"/>
<rect x="233.42" y="674.46" width="6.48" height="6.88" fill="#DE0806"/>
<rect x="239.90" y="674.46" width="6.48" height="6.88" fill="#8888FF"/>
<rect x="246.38" y="674.46" width="6.48" height="6.88" fill="#6B58EF"/>
<rect x="252.86" y="674.46" width="6.48" height="6.88" fill="#FF5A5A"/>
<rect x="207.50" y="681.35" width="6.48" height="6.88" fill="#8888FF"/>
<rect x="213.98" y="681.35" width="6.48" height="6.88" fill="#4000C2"/>
<rect x="220.46" y="681.35" width="6.48" height="6.88" fill="#6B58EF"/>
<rect x="226.94" y="681.35" width="6.48" height="6.88" fill="#4000C2"/>
<rect x="233.42" y="681.35" width="6.48" height="6.88" fill="#DE0806"/>
<rect x="239.90" y="681.35" width="6.48" height="6.88" fill="#D8D4FF"/>
<rect x="246.38" y="681.35" width="6.48" height="6.88" fill="#FF5A5A"/>
<rect x="252.86" y="681.35" width="6.48" height="6.88" fill="#FF8989"/>
<rect x="207.50" y="688.23" width="6.48" height="6.88" fill="#6B58EF"/>
<rect x="213.98" y="688.23" width="6.48" height="6.88" fill="#D8D4FF"/>
<rect x="220.46" y="688.23" width="6.48" height="6.88" fill="#4000C2"/>
<rect x="226.94" y="688.23" width="6.48" height="6.88" fill="#8888FF"/>
<rect x="233.42" y="688.23" width="6.48" height="6.88" fill="#FFC0E5"/>
<rect x="239.90" y="688.23" width="6.48" height="6.88" fill="#DE0806"/>
<rect x="246.38" y="688.23" width="6.48" height="6.88" fill="#FF8989"/>
<rect x="252.86" y="688.23" width="6.48" height="6.88" fill="#DE0806"/>
<rect x="207.50" y="695.12" width="6.48" height="6.88" fill="#D8D4FF"/>
<rect x="213.98" y="695.12" width="6.48" height="6.88" fill="#8888FF"/>
<rect x="220.46" y="695.12" width="6.48" height="6.88" fill="#4000C2"/>
<rect x="226.94" y="695.12" width="6.48" height="6.88" fill="#FF8989"/>
<rect x="233.42" y="695.12" width="6.48" height="6.88" fill="#FF8989"/>
<rect x="239.90" y="695.12" width="6.48" height="6.88" fill="#D8D4FF"/>
<rect x="246.38" y="695.12" width="6.48" height="6.88" fill="#6B58EF"/>
<rect x="252.86" y="695.12" width="6.48" height="6.88" fill="#DE0806"/>
<rect x="207.50" y="702.00" width="6.48" height="6.88" fill="#4000C2"/>
<rect x="213.98" y="702.00" width="6.48" height="6.88" fill="#2700D1"/>
<rect x="220.46" y="702.00" width="6.48" height="6.88" fill="#4000C2"/>
<rect x="226.94" y="702.00" width="6.48" height="6.88" fill="#FFC0E5"/>
<rect x="233.42" y="702.00" width="6.48" height="6.88" fill="#2700D1"/>
<rect x="239.90" y="702.00" width="6.48" height="6.88" fill="#FFC0E5"/>
<rect x="246.38" y="702.00" width="6.48" height="6.88" fill="#FF5A5A"/>
<rect x="252.86" y="702.00" width="6.48" height="6.88" fill="#DE0806"/>
<rect x="207.50" y="708.88" width="6.48" height="6.88" fill="#2700D1"/>
<rect x="213.98" y="708.88" width="6.48" height="6.88" fill="#4000C2"/>
<rect x="220.46" y="708.88" width="6.48" height="6.88" fill="#4000C2"/>
<rect x="226.94" y="708.88" width="6.48" height="6.88" fill="#6B58EF"/>
<rect x="233.42" y="708.88" width="6.48" height="6.88" fill="#DE0806"/>
<rect x="239.90" y="708.88" width="6.48" height="6.88" fill="#FF8989"/>
<rect x="246.38" y="708.88" width="6.48" height="6.88" fill="#FF5A5A"/>
<rect x="252.86" y="708.88" width="6.48" height="6.88" fill="#FF5A5A"/>
<rect x="207.50" y="715.77" width="6.48" height="6.88" fill="#D8D4FF"/>
<rect x="213.98" y="715.77" width="6.48" height="6.88" fill="#4000C2"/>
<rect x="220.46" y="715.77" width="6.48" height="6.88" fill="#D8D4FF"/>
<rect x="226.94" y="715.77" width="6.48" height="6.88" fill="#FFC0E5"/>
<rect x="233.42" y="715.77" width="6.48" height="6.88" fill="#FF5A5A"/>
<rect x="239.90" y="715.77" width="6.48" height="6.88" fill="#4000C2"/>
<rect x="246.38" y="715.77" width="6.48" height="6.88" fill="#DE0806"/>
<rect x="252.86" y="715.77" width="6.48" height="6.88" fill="#FF5A5A"/>
<rect x="207.50" y="722.65" width="6.48" height="6.88" fill="#D8D4FF"/>
<rect x="213.98" y="722.65" width="6.48" height="6.88" fill="#4000C2"/>
<rect x="220.46" y="722.65" width="6.48" height="6.88" fill="#8888FF"/>
<rect x="226.94" y="722.65" width="6.48" height="6.88" fill="#FF8989"/>
<rect x="233.42" y="722.65" width="6.48" height="6.88" fill="#FFC0E5"/>
<rect x="239.90" y="722.65" width="6.48" height="6.88" fill="#6B58EF"/>
<rect x="246.38" y="722.65" width="6.48" height="6.88" fill="#FFC0E5"/>
<rect x="252.86" y="722.65" width="6.48" height="6.88" fill="#DE0806"/>
<rect x="207.50" y="729.54" width="6.48" height="6.88" fill="#D8D4FF"/>
<rect x="213.98" y="729.54" width="6.48" height="6.88" fill="#4000C2"/>
<rect x="220.46" y="729.54" width="6.48" height="6.88" fill="#D8D4FF"/>
<rect x="226.94" y="729.54" width="6.48" height="6.88" fill="#FFC0E5"/>
<rect x="233.42" y="729.54" width="6.48" height="6.88" fill="#DE0806"/>
<rect x="239.90" y="729.54" width="6.48" height="6.88" fill="#2700D1"/>
<rect x="246.38" y="729.54" width="6.48" height="6.88" fill="#DE0806"/>
<rect x="252.86" y="729.54" width="6.48" height="6.88" fill="#FF5A5A"/>
<rect x="207.50" y="736.42" width="6.48" height="6.88" fill="#FFC0E5"/>
<rect x="213.98" y="736.42" width="6.48" height="6.88" fill="#6B58EF"/>
<rect x="220.46" y="736.42" width="6.48" height="6.88" fill="#4000C2"/>
<rect x="226.94" y="736.42" width="6.48" height="6.88" fill="#FF8989"/>
<rect x="233.42" y="736.42" width="6.48" height="6.88" fill="#DE0806"/>
<rect x="239.90" y="736.42" width="6.48" height="6.88" fill="#8888FF"/>
<rect x="246.38" y="736.42" width="6.48" height="6.88" fill="#8888FF"/>
<rect x="252.86" y="736.42" width="6.48" height="6.88" fill="#FF5A5A"/>
<rect x="207.50" y="743.31" width="6.48" height="6.88" fill="#4000C2"/>
<rect x="213.98" y="743.31" width="6.48" height="6.88" fill="#4000C2"/>
<rect x="220.46" y="743.31" width="6.48" height="6.88" fill="#8888FF"/>
<rect x="226.94" y="743.31" width="6.48" height="6.88" fill="#FF5A5A"/>
<rect x="233.42" y="743.31" width="6.48" height="6.88" fill="#8888FF"/>
<rect x="239.90" y="743.31" width="6.48" height="6.88" fill="#2700D1"/>
<rect x="246.38" y="743.31" width="6.48" height="6.88" fill="#FF8989"/>
<rect x="252.86" y="743.31" width="6.48" height="6.88" fill="#DE0806"/>
<rect x="207.50" y="750.19" width="6.48" height="6.88" fill="#8888FF"/>
<rect x="213.98" y="750.19" width="6.48" height="6.88" fill="#4000C2"/>
<rect x="220.46" y="750.19" width="6.48" height="6.88" fill="#8888FF"/>
<rect x="226.94" y="750.19" width="6.48" height="6.88" fill="#FFC0E5"/>
<rect x="233.42" y="750.19" width="6.48" height="6.88" fill="#D8D4FF"/>
<rect x="239.90" y="750.19" width="6.48" height="6.88" fill="#FFC0E5"/>
<rect x="246.38" y="750.19" width="6.48" height="6.88" fill="#FF8989"/>
<rect x="252.86" y="750.19" width="6.48" height="6.88" fill="#DE0806"/>
<rect x="207.50" y="757.08" width="6.48" height="6.88" fill="#FFC0E5"/>
<rect x="213.98" y="757.08" width="6.48" height="6.88" fill="#4000C2"/>
<rect x="220.46" y="757.08" width="6.48" height="6.88" fill="#D8D4FF"/>
<rect x="226.94" y="757.08" width="6.48" height="6.88" fill="#FFC0E5"/>
<rect x="233.42" y="757.08" width="6.48" height="6.88" fill="#DE0806"/>
<rect x="239.90" y="757.08" width="6.48" height="6.88" fill="#D8D4FF"/>
<rect x="246.38" y="757.08" width="6.48" height="6.88" fill="#FF5A5A"/>
<rect x="252.86" y="757.08" width="6.48" height="6.88" fill="#FF8989"/>
<rect x="207.50" y="763.96" width="6.48" height="6.88" fill="#4000C2"/>
<rect x="213.98" y="763.96" width="6.48" height="6.88" fill="#FFC0E5"/>
<rect x="220.46" y="763.96" width="6.48" height="6.88" fill="#D8D4FF"/>
<rect x="226.94" y="763.96" width="6.48" height="6.88" fill="#4000C2"/>
<rect x="233.42" y="763.96" width="6.48" height="6.88" fill="#FF5A5A"/>
<rect x="239.90" y="763.96" width="6.48" height="6.88" fill="#FF5A5A"/>
<rect x="246.38" y="763.96" width="6.48" height="6.88" fill="#DE0806"/>
<rect x="252.86" y="763.96" width="6.48" height="6.88" fill="#DE0806"/>
<rect x="207.50" y="770.85" width="6.48" height="6.88" fill="#FF5A5A"/>
<rect x="213.98" y="770.85" width="6.48" height="6.88" fill="#FF8989"/>
<rect x="220.46" y="770.85" width="6.48" height="6.88" fill="#6B58EF"/>
<rect x="226.94" y="770.85" width="6.48" height="6.88" fill="#4000C2"/>
<rect x="233.42" y="770.85" width="6.48" height="6.88" fill="#DE0806"/>
<rect x="239.90" y="770.85" width="6.48" height="6.88" fill="#FF5A5A"/>
<rect x="246.38" y="770.85" width="6.48" height="6.88" fill="#D8D4FF"/>
<rect x="252.86" y="770.85" width="6.48" height="6.88" fill="#2700D1"/>
<rect x="207.50" y="777.73" width="6.48" height="6.88" fill="#FF8989"/>
<rect x="213.98" y="777.73" width="6.48" height="6.88" fill="#8888FF"/>
<rect x="220.46" y="777.73" width="6.48" height="6.88" fill="#4000C2"/>
<rect x="226.94" y="777.73" width="6.48" height="6.88" fill="#6B58EF"/>
<rect x="233.42" y="777.73" width="6.48" height="6.88" fill="#DE0806"/>
<rect x="239.90" y="777.73" width="6.48" height="6.88" fill="#FFC0E5"/>
<rect x="246.38" y="777.73" width="6.48" height="6.88" fill="#8888FF"/>
<rect x="252.86" y="777.73" width="6.48" height="6.88" fill="#FFC0E5"/>
<path d="M207.50 151.20V784.62M213.98 151.20V784.62M220.46 151.20V784.62M226.94 151.20V784.62M233.42 151.20V784.62M239.90 151.20V784.62M246.38 151.20V784.62M252.86 151.20V784.62M259.34 151.20V784.62M207.50 151.20H259.34M207.50 158.08H259.34M207.50 164.97H259.34M207.50 171.85H259.34M207.50 178.74H259.34M207.50 185.62H259.34M207.50 192.51H259.34M207.50 199.39H259.34M207.50 206.28H259.34M207.50 213.16H259.34M207.50 220.05H259.34M207.50 226.94H259.34M207.50 233.82H259.34M207.50 240.70H259.34M207.50 247.59H259.34M207.50 254.47H259.34M207.50 261.36H259.34M207.50 268.25H259.34M207.50 275.13H259.34M207.50 282.01H259.34M207.50 288.90H259.34M207.50 295.78H259.34M207.50 302.67H259.34M207.50 309.55H259.34M207.50 316.44H259.34M207.50 323.32H259.34M207.50 330.21H259.34M207.50 337.09H259.34M207.50 343.98H259.34M207.50 350.87H259.34M207.50 357.75H259.34M207.50 364.63H259.34M207.50 371.52H259.34M207.50 378.40H259.34M207.50 385.29H259.34M207.50 392.17H259.34M207.50 399.06H259.34M207.50 405.94H259.34M207.50 412.83H259.34M207.50 419.71H259.34M207.50 426.60H259.34M207.50 433.48H259.34M207.50 440.37H259.34M207.50 447.25H259.34M207.50 454.14H259.34M207.50 461.02H259.34M207.50 467.91H259.34M207.50 474.79H259.34M207.50 481.68H259.34M207.50 488.56H259.34M207.50 495.45H259.34M207.50 502.33H259.34M207.50 509.22H259.34M207.50 516.11H259.34M207.50 522.99H259.34M207.50 529.88H259.34M207.50 536.76H259.34M207.50 543.64H259.34M207.50 550.53H259.34M207.50 557.41H259.34M207.50 564.30H259.34M207.50 571.18H259.34M207.50 578.07H259.34M207.50 584.95H259.34M207.50 591.84H259.34M207.50 598.72H259.34M207.50 605.61H259.34M207.50 612.49H259.34M207.50 619.38H259.34M207.50 626.26H259.34M207.50 633.15H259.34M207.50 640.03H259.34M207.50 646.92H259.34M207.50 653.80H259.34M207.50 660.69H259.34M207.50 667.58H259.34M207.50 674.46H259.34M207.50 681.35H259.34M207.50 688.23H259.34M207.50 695.12H259.34M207.50 702.00H259.34M207.50 708.88H259.34M207.50 715.77H259.34M207.50 722.65H259.34M207.50 729.54H259.34M207.50 736.42H259.34M207.50 743.31H259.34M207.50 750.19H259.34M207.50 757.08H259.34M207.50 763.96H259.34M207.50 770.85H259.34M207.50 777.73H259.34M207.50 784.62H259.34" stroke="#1a0028" stroke-opacity="0.62" stroke-width="0.7" fill="none"/></g>
<text transform="translate(89.8 156.79) rotate(-0.04)" font-size="7.7" letter-spacing="0.08" stroke="#000" stroke-width="0.28">RPP40</text>
<text x="136.05" y="157.84" font-size="7.2" text-anchor="middle" letter-spacing="1.25" stroke="#000" stroke-width="0.42">*</text>
<text transform="translate(89.8 163.66) rotate(-0.04)" font-size="7.7" letter-spacing="0.08" stroke="#000" stroke-width="0.28">FABP5</text>
<text transform="translate(89.8 170.54) rotate(-0.04)" font-size="7.7" letter-spacing="0.08" stroke="#000" stroke-width="0.28">PRDX4</text>
<text x="136.05" y="171.59" font-size="7.2" text-anchor="middle" letter-spacing="1.25" stroke="#000" stroke-width="0.42">*</text>
<text transform="translate(89.8 177.41) rotate(-0.04)" font-size="7.7" letter-spacing="0.08" stroke="#000" stroke-width="0.28">NME1</text>
<text x="136.05" y="178.46" font-size="7.2" text-anchor="middle" letter-spacing="1.25" stroke="#000" stroke-width="0.42">**</text>
<text transform="translate(89.8 184.29) rotate(-0.04)" font-size="7.7" letter-spacing="0.08" stroke="#000" stroke-width="0.28">HMBS</text>
<text x="136.05" y="185.34" font-size="7.2" text-anchor="middle" letter-spacing="1.25" stroke="#000" stroke-width="0.42">*</text>
<text transform="translate(89.8 191.16) rotate(-0.04)" font-size="7.7" letter-spacing="0.08" stroke="#000" stroke-width="0.28">SHQ1</text>
<text x="136.05" y="192.21" font-size="7.2" text-anchor="middle" letter-spacing="1.25" stroke="#000" stroke-width="0.42">**</text>
<text transform="translate(89.8 198.04) rotate(-0.04)" font-size="7.7" letter-spacing="0.08" stroke="#000" stroke-width="0.28">AK2</text>
<text x="136.05" y="199.09" font-size="7.2" text-anchor="middle" letter-spacing="1.25" stroke="#000" stroke-width="0.42">**</text>
<text transform="translate(89.8 204.91) rotate(-0.04)" font-size="7.7" letter-spacing="0.08" stroke="#000" stroke-width="0.28">VARS</text>
<text transform="translate(89.8 211.79) rotate(-0.04)" font-size="7.7" letter-spacing="0.08" stroke="#000" stroke-width="0.28">GNPNAT1</text>
<text x="136.05" y="212.84" font-size="7.2" text-anchor="middle" letter-spacing="1.25" stroke="#000" stroke-width="0.42">**</text>
<text transform="translate(89.8 218.66) rotate(-0.04)" font-size="7.7" letter-spacing="0.08" stroke="#000" stroke-width="0.28">C14orf156</text>
<text transform="translate(89.8 225.54) rotate(-0.04)" font-size="7.7" letter-spacing="0.08" stroke="#000" stroke-width="0.28">ATP5G1</text>
<text x="136.05" y="226.59" font-size="7.2" text-anchor="middle" letter-spacing="1.25" stroke="#000" stroke-width="0.42">**</text>
<text transform="translate(89.8 232.41) rotate(-0.04)" font-size="7.7" letter-spacing="0.08" stroke="#000" stroke-width="0.28">PPRC1</text>
<text transform="translate(89.8 239.29) rotate(-0.04)" font-size="7.7" letter-spacing="0.08" stroke="#000" stroke-width="0.28">ADK</text>
<text x="136.05" y="240.34" font-size="7.2" text-anchor="middle" letter-spacing="1.25" stroke="#000" stroke-width="0.42">**</text>
<text transform="translate(89.8 246.16) rotate(-0.04)" font-size="7.7" letter-spacing="0.08" stroke="#000" stroke-width="0.28">WDR77</text>
<text x="136.05" y="247.21" font-size="7.2" text-anchor="middle" letter-spacing="1.25" stroke="#000" stroke-width="0.42">**</text>
<text transform="translate(89.8 253.04) rotate(-0.04)" font-size="7.7" letter-spacing="0.08" stroke="#000" stroke-width="0.28">PSME3</text>
<text x="136.05" y="254.09" font-size="7.2" text-anchor="middle" letter-spacing="1.25" stroke="#000" stroke-width="0.42">**</text>
<text transform="translate(89.8 259.91) rotate(-0.04)" font-size="7.7" letter-spacing="0.08" stroke="#000" stroke-width="0.28">ATIC</text>
<text x="136.05" y="260.96" font-size="7.2" text-anchor="middle" letter-spacing="1.25" stroke="#000" stroke-width="0.42">**</text>
<text transform="translate(89.8 266.79) rotate(-0.04)" font-size="7.7" letter-spacing="0.08" stroke="#000" stroke-width="0.28">ECHDC1</text>
<text transform="translate(89.8 273.66) rotate(-0.04)" font-size="7.7" letter-spacing="0.08" stroke="#000" stroke-width="0.28">MIPEP</text>
<text x="136.05" y="274.71" font-size="7.2" text-anchor="middle" letter-spacing="1.25" stroke="#000" stroke-width="0.42">*</text>
<text transform="translate(89.8 280.54) rotate(-0.04)" font-size="7.7" letter-spacing="0.08" stroke="#000" stroke-width="0.28">MAPKAP1</text>
<text transform="translate(89.8 287.41) rotate(-0.04)" font-size="7.7" letter-spacing="0.08" stroke="#000" stroke-width="0.28">EIF4G1</text>
<text transform="translate(89.8 294.29) rotate(-0.04)" font-size="7.7" letter-spacing="0.08" stroke="#000" stroke-width="0.28">SYNGR2</text>
<text transform="translate(89.8 301.16) rotate(-0.04)" font-size="7.7" letter-spacing="0.08" stroke="#000" stroke-width="0.28">MYC</text>
<text x="136.05" y="302.21" font-size="7.2" text-anchor="middle" letter-spacing="1.25" stroke="#000" stroke-width="0.42">*</text>
<text transform="translate(89.8 308.04) rotate(-0.04)" font-size="7.7" letter-spacing="0.08" stroke="#000" stroke-width="0.28">MYBBP1A</text>
<text x="136.05" y="309.09" font-size="7.2" text-anchor="middle" letter-spacing="1.25" stroke="#000" stroke-width="0.42">**</text>
<text transform="translate(89.8 314.91) rotate(-0.04)" font-size="7.7" letter-spacing="0.08" stroke="#000" stroke-width="0.28">KIAA0020</text>
<text transform="translate(89.8 321.79) rotate(-0.04)" font-size="7.7" letter-spacing="0.08" stroke="#000" stroke-width="0.28">NOLA2</text>
<text x="136.05" y="322.84" font-size="7.2" text-anchor="middle" letter-spacing="1.25" stroke="#000" stroke-width="0.42">*</text>
<text transform="translate(89.8 328.66) rotate(-0.04)" font-size="7.7" letter-spacing="0.08" stroke="#000" stroke-width="0.28">CAD</text>
<text transform="translate(89.8 335.54) rotate(-0.04)" font-size="7.7" letter-spacing="0.08" stroke="#000" stroke-width="0.28">GCN5L2</text>
<text x="136.05" y="336.59" font-size="7.2" text-anchor="middle" letter-spacing="1.25" stroke="#000" stroke-width="0.42">*</text>
<text transform="translate(89.8 342.41) rotate(-0.04)" font-size="7.7" letter-spacing="0.08" stroke="#000" stroke-width="0.28">PUS7</text>
<text x="136.05" y="343.46" font-size="7.2" text-anchor="middle" letter-spacing="1.25" stroke="#000" stroke-width="0.42">**</text>
<text transform="translate(89.8 349.29) rotate(-0.04)" font-size="7.7" letter-spacing="0.08" stroke="#000" stroke-width="0.28">DPH1</text>
<text transform="translate(89.8 356.16) rotate(-0.04)" font-size="7.7" letter-spacing="0.08" stroke="#000" stroke-width="0.28">PPAT</text>
<text transform="translate(89.8 363.04) rotate(-0.04)" font-size="7.7" letter-spacing="0.08" stroke="#000" stroke-width="0.28">IPO4</text>
<text x="136.05" y="364.09" font-size="7.2" text-anchor="middle" letter-spacing="1.25" stroke="#000" stroke-width="0.42">**</text>
<text transform="translate(89.8 369.91) rotate(-0.04)" font-size="7.7" letter-spacing="0.08" stroke="#000" stroke-width="0.28">GLCCI1</text>
<text transform="translate(89.8 376.79) rotate(-0.04)" font-size="7.7" letter-spacing="0.08" stroke="#000" stroke-width="0.28">MALAT1</text>
<text transform="translate(89.8 383.66) rotate(-0.04)" font-size="7.7" letter-spacing="0.08" stroke="#000" stroke-width="0.28">CBX7</text>
<text transform="translate(89.8 390.54) rotate(-0.04)" font-size="7.7" letter-spacing="0.08" stroke="#000" stroke-width="0.28">ICK</text>
<text transform="translate(89.8 397.41) rotate(-0.04)" font-size="7.7" letter-spacing="0.08" stroke="#000" stroke-width="0.28">SSBP2</text>
<text transform="translate(89.8 404.29) rotate(-0.04)" font-size="7.7" letter-spacing="0.08" stroke="#000" stroke-width="0.28">SATB1</text>
<text transform="translate(89.8 411.16) rotate(-0.04)" font-size="7.7" letter-spacing="0.08" stroke="#000" stroke-width="0.28">MGEA5</text>
<text transform="translate(89.8 418.04) rotate(-0.04)" font-size="7.7" letter-spacing="0.08" stroke="#000" stroke-width="0.28">RLF</text>
<text x="136.05" y="419.09" font-size="7.2" text-anchor="middle" letter-spacing="1.25" stroke="#000" stroke-width="0.42">*</text>
<text transform="translate(89.8 424.91) rotate(-0.04)" font-size="7.7" letter-spacing="0.08" stroke="#000" stroke-width="0.28">CAMK1D</text>
<text transform="translate(89.8 431.79) rotate(-0.04)" font-size="7.7" letter-spacing="0.08" stroke="#000" stroke-width="0.28">SERTAD1</text>
<text transform="translate(89.8 438.66) rotate(-0.04)" font-size="7.7" letter-spacing="0.08" stroke="#000" stroke-width="0.28">CYFIP2</text>
<text transform="translate(89.8 445.54) rotate(-0.04)" font-size="7.7" letter-spacing="0.08" stroke="#000" stroke-width="0.28">KIAA1147</text>
<text transform="translate(89.8 452.41) rotate(-0.04)" font-size="7.7" letter-spacing="0.08" stroke="#000" stroke-width="0.28">PCM1</text>
<text transform="translate(89.8 459.29) rotate(-0.04)" font-size="7.7" letter-spacing="0.08" stroke="#000" stroke-width="0.28">UNC5CL</text>
<text transform="translate(89.8 466.16) rotate(-0.04)" font-size="7.7" letter-spacing="0.08" stroke="#000" stroke-width="0.28">TNFRSF1A</text>
<text x="136.05" y="467.21" font-size="7.2" text-anchor="middle" letter-spacing="1.25" stroke="#000" stroke-width="0.42">*</text>
<text transform="translate(89.8 473.04) rotate(-0.04)" font-size="7.7" letter-spacing="0.08" stroke="#000" stroke-width="0.28">HIST1H1C</text>
<text transform="translate(89.8 479.91) rotate(-0.04)" font-size="7.7" letter-spacing="0.08" stroke="#000" stroke-width="0.28">CBX4</text>
<text transform="translate(89.8 486.79) rotate(-0.04)" font-size="7.7" letter-spacing="0.08" stroke="#000" stroke-width="0.28">FUBP1</text>
<text transform="translate(89.8 493.66) rotate(-0.04)" font-size="7.7" letter-spacing="0.08" stroke="#000" stroke-width="0.28">LCOR</text>
<text transform="translate(89.8 500.54) rotate(-0.04)" font-size="7.7" letter-spacing="0.08" stroke="#000" stroke-width="0.28">DDHD2</text>
<text transform="translate(89.8 507.41) rotate(-0.04)" font-size="7.7" letter-spacing="0.08" stroke="#000" stroke-width="0.28">ITCH</text>
<text transform="translate(89.8 514.29) rotate(-0.04)" font-size="7.7" letter-spacing="0.08" stroke="#000" stroke-width="0.28">RBM39</text>
<text transform="translate(89.8 521.16) rotate(-0.04)" font-size="7.7" letter-spacing="0.08" stroke="#000" stroke-width="0.28">TCEAL8</text>
<text transform="translate(89.8 528.04) rotate(-0.04)" font-size="7.7" letter-spacing="0.08" stroke="#000" stroke-width="0.28">SLTM</text>
<text transform="translate(89.8 534.91) rotate(-0.04)" font-size="7.7" letter-spacing="0.08" stroke="#000" stroke-width="0.28">CCDC93</text>
<text transform="translate(89.8 541.79) rotate(-0.04)" font-size="7.7" letter-spacing="0.08" stroke="#000" stroke-width="0.28">PLXDC1</text>
<text transform="translate(89.8 548.66) rotate(-0.04)" font-size="7.7" letter-spacing="0.08" stroke="#000" stroke-width="0.28">FAM65A</text>
<text transform="translate(262.9 157.69) rotate(-0.04)" font-size="7.7" letter-spacing="0.08" stroke="#000" stroke-width="0.28">EXOSC5</text>
<text x="311.55" y="157.84" font-size="7.2" text-anchor="middle" letter-spacing="1.25" stroke="#000" stroke-width="0.42">**</text>
<text transform="translate(262.9 164.58) rotate(-0.04)" font-size="7.7" letter-spacing="0.08" stroke="#000" stroke-width="0.28">TOMM40</text>
<text x="311.55" y="164.73" font-size="7.2" text-anchor="middle" letter-spacing="1.25" stroke="#000" stroke-width="0.42">**</text>
<text transform="translate(262.9 171.46) rotate(-0.04)" font-size="7.7" letter-spacing="0.08" stroke="#000" stroke-width="0.28">PFAS</text>
<text x="311.55" y="171.61" font-size="7.2" text-anchor="middle" letter-spacing="1.25" stroke="#000" stroke-width="0.42">*</text>
<text transform="translate(262.9 178.35) rotate(-0.04)" font-size="7.7" letter-spacing="0.08" stroke="#000" stroke-width="0.28">TRAP1</text>
<text x="311.55" y="178.50" font-size="7.2" text-anchor="middle" letter-spacing="1.25" stroke="#000" stroke-width="0.42">*</text>
<text transform="translate(262.9 185.23) rotate(-0.04)" font-size="7.7" letter-spacing="0.08" stroke="#000" stroke-width="0.28">PHB</text>
<text x="311.55" y="185.38" font-size="7.2" text-anchor="middle" letter-spacing="1.25" stroke="#000" stroke-width="0.42">**</text>
<text transform="translate(262.9 192.12) rotate(-0.04)" font-size="7.7" letter-spacing="0.08" stroke="#000" stroke-width="0.28">WDR74</text>
<text transform="translate(262.9 199.00) rotate(-0.04)" font-size="7.7" letter-spacing="0.08" stroke="#000" stroke-width="0.28">GRWD1</text>
<text transform="translate(262.9 205.89) rotate(-0.04)" font-size="7.7" letter-spacing="0.08" stroke="#000" stroke-width="0.28">PPIH</text>
<text transform="translate(262.9 212.77) rotate(-0.04)" font-size="7.7" letter-spacing="0.08" stroke="#000" stroke-width="0.28">GARS</text>
<text transform="translate(262.9 219.66) rotate(-0.04)" font-size="7.7" letter-spacing="0.08" stroke="#000" stroke-width="0.28">GADD45GIP1</text>
<text transform="translate(262.9 226.54) rotate(-0.04)" font-size="7.7" letter-spacing="0.08" stroke="#000" stroke-width="0.28">TXNDC5</text>
<text transform="translate(262.9 233.43) rotate(-0.04)" font-size="7.7" letter-spacing="0.08" stroke="#000" stroke-width="0.28">IFRD2</text>
<text x="311.55" y="233.58" font-size="7.2" text-anchor="middle" letter-spacing="1.25" stroke="#000" stroke-width="0.42">**</text>
<text transform="translate(262.9 240.31) rotate(-0.04)" font-size="7.7" letter-spacing="0.08" stroke="#000" stroke-width="0.28">YRDC</text>
<text transform="translate(262.9 247.20) rotate(-0.04)" font-size="7.7" letter-spacing="0.08" stroke="#000" stroke-width="0.28">ELAC2</text>
<text transform="translate(262.9 254.08) rotate(-0.04)" font-size="7.7" letter-spacing="0.08" stroke="#000" stroke-width="0.28">NSUN2</text>
<text transform="translate(262.9 260.97) rotate(-0.04)" font-size="7.7" letter-spacing="0.08" stroke="#000" stroke-width="0.28">ANKRD13B</text>
<text transform="translate(262.9 267.85) rotate(-0.04)" font-size="7.7" letter-spacing="0.08" stroke="#000" stroke-width="0.28">NUDT8</text>
<text transform="translate(262.9 274.74) rotate(-0.04)" font-size="7.7" letter-spacing="0.08" stroke="#000" stroke-width="0.28">NLE1</text>
<text transform="translate(262.9 281.62) rotate(-0.04)" font-size="7.7" letter-spacing="0.08" stroke="#000" stroke-width="0.28">SLC5A6</text>
<text transform="translate(262.9 288.51) rotate(-0.04)" font-size="7.7" letter-spacing="0.08" stroke="#000" stroke-width="0.28">CLPP</text>
<text transform="translate(262.9 295.39) rotate(-0.04)" font-size="7.7" letter-spacing="0.08" stroke="#000" stroke-width="0.28">DDX10</text>
<text x="311.55" y="295.54" font-size="7.2" text-anchor="middle" letter-spacing="1.25" stroke="#000" stroke-width="0.42">*</text>
<text transform="translate(262.9 302.28) rotate(-0.04)" font-size="7.7" letter-spacing="0.08" stroke="#000" stroke-width="0.28">POLR3E</text>
<text transform="translate(262.9 309.16) rotate(-0.04)" font-size="7.7" letter-spacing="0.08" stroke="#000" stroke-width="0.28">ACBD6</text>
<text x="311.55" y="309.31" font-size="7.2" text-anchor="middle" letter-spacing="1.25" stroke="#000" stroke-width="0.42">*</text>
<text transform="translate(262.9 316.05) rotate(-0.04)" font-size="7.7" letter-spacing="0.08" stroke="#000" stroke-width="0.28">IMPDH2</text>
<text transform="translate(262.9 322.93) rotate(-0.04)" font-size="7.7" letter-spacing="0.08" stroke="#000" stroke-width="0.28">KIAA0859</text>
<text transform="translate(262.9 329.82) rotate(-0.04)" font-size="7.7" letter-spacing="0.08" stroke="#000" stroke-width="0.28">ZNF259</text>
<text transform="translate(262.9 336.70) rotate(-0.04)" font-size="7.7" letter-spacing="0.08" stroke="#000" stroke-width="0.28">THYN1</text>
<text transform="translate(262.9 343.59) rotate(-0.04)" font-size="7.7" letter-spacing="0.08" stroke="#000" stroke-width="0.28">DDX49</text>
<text transform="translate(262.9 350.47) rotate(-0.04)" font-size="7.7" letter-spacing="0.08" stroke="#000" stroke-width="0.28">PSMB2</text>
<text transform="translate(262.9 357.36) rotate(-0.04)" font-size="7.7" letter-spacing="0.08" stroke="#000" stroke-width="0.28">POLR2H</text>
<text transform="translate(262.9 364.24) rotate(-0.04)" font-size="7.7" letter-spacing="0.08" stroke="#000" stroke-width="0.28">TUFM</text>
<text transform="translate(262.9 371.13) rotate(-0.04)" font-size="7.7" letter-spacing="0.08" stroke="#000" stroke-width="0.28">CDK4</text>
<text x="311.55" y="371.28" font-size="7.2" text-anchor="middle" letter-spacing="1.25" stroke="#000" stroke-width="0.42">*</text>
<text transform="translate(262.9 378.01) rotate(-0.04)" font-size="7.7" letter-spacing="0.08" stroke="#000" stroke-width="0.28">EPRS</text>
<text transform="translate(262.9 384.90) rotate(-0.04)" font-size="7.7" letter-spacing="0.08" stroke="#000" stroke-width="0.28">MRPS35</text>
<text transform="translate(262.9 391.78) rotate(-0.04)" font-size="7.7" letter-spacing="0.08" stroke="#000" stroke-width="0.28">EIF5A</text>
<text transform="translate(262.9 398.67) rotate(-0.04)" font-size="7.7" letter-spacing="0.08" stroke="#000" stroke-width="0.28">MRPL12</text>
<text x="311.55" y="398.82" font-size="7.2" text-anchor="middle" letter-spacing="1.25" stroke="#000" stroke-width="0.42">*</text>
<text transform="translate(262.9 405.55) rotate(-0.04)" font-size="7.7" letter-spacing="0.08" stroke="#000" stroke-width="0.28">C18orf22</text>
<text x="311.55" y="405.70" font-size="7.2" text-anchor="middle" letter-spacing="1.25" stroke="#000" stroke-width="0.42">*</text>
<text transform="translate(262.9 412.44) rotate(-0.04)" font-size="7.7" letter-spacing="0.08" stroke="#000" stroke-width="0.28">SSBP4</text>
<text x="311.55" y="412.59" font-size="7.2" text-anchor="middle" letter-spacing="1.25" stroke="#000" stroke-width="0.42">*</text>
<text transform="translate(262.9 419.32) rotate(-0.04)" font-size="7.7" letter-spacing="0.08" stroke="#000" stroke-width="0.28">EXOSC4</text>
<text transform="translate(262.9 426.21) rotate(-0.04)" font-size="7.7" letter-spacing="0.08" stroke="#000" stroke-width="0.28">DENR</text>
<text transform="translate(262.9 433.09) rotate(-0.04)" font-size="7.7" letter-spacing="0.08" stroke="#000" stroke-width="0.28">PHGDH</text>
<text transform="translate(262.9 439.98) rotate(-0.04)" font-size="7.7" letter-spacing="0.08" stroke="#000" stroke-width="0.28">TRMT1</text>
<text x="311.55" y="440.13" font-size="7.2" text-anchor="middle" letter-spacing="1.25" stroke="#000" stroke-width="0.42">**</text>
<text transform="translate(262.9 446.86) rotate(-0.04)" font-size="7.7" letter-spacing="0.08" stroke="#000" stroke-width="0.28">RPS19</text>
<text transform="translate(262.9 453.75) rotate(-0.04)" font-size="7.7" letter-spacing="0.08" stroke="#000" stroke-width="0.28">ARL1</text>
<text transform="translate(262.9 460.63) rotate(-0.04)" font-size="7.7" letter-spacing="0.08" stroke="#000" stroke-width="0.28">PRPF31</text>
<text transform="translate(262.9 467.52) rotate(-0.04)" font-size="7.7" letter-spacing="0.08" stroke="#000" stroke-width="0.28">ZFP64</text>
<text transform="translate(262.9 474.40) rotate(-0.04)" font-size="7.7" letter-spacing="0.08" stroke="#000" stroke-width="0.28">CDKN2D</text>
<text x="311.55" y="474.55" font-size="7.2" text-anchor="middle" letter-spacing="1.25" stroke="#000" stroke-width="0.42">*</text>
<text transform="translate(262.9 481.29) rotate(-0.04)" font-size="7.7" letter-spacing="0.08" stroke="#000" stroke-width="0.28">TMEM71</text>
<text transform="translate(262.9 488.17) rotate(-0.04)" font-size="7.7" letter-spacing="0.08" stroke="#000" stroke-width="0.28">RGL2</text>
<text transform="translate(262.9 495.06) rotate(-0.04)" font-size="7.7" letter-spacing="0.08" stroke="#000" stroke-width="0.28">NBR1</text>
<text transform="translate(262.9 501.94) rotate(-0.04)" font-size="7.7" letter-spacing="0.08" stroke="#000" stroke-width="0.28">TCP11L2</text>
<text transform="translate(262.9 508.83) rotate(-0.04)" font-size="7.7" letter-spacing="0.08" stroke="#000" stroke-width="0.28">JARID2</text>
<text x="311.55" y="508.98" font-size="7.2" text-anchor="middle" letter-spacing="1.25" stroke="#000" stroke-width="0.42">*</text>
<text transform="translate(262.9 515.71) rotate(-0.04)" font-size="7.7" letter-spacing="0.08" stroke="#000" stroke-width="0.28">PRKCQ</text>
<text transform="translate(262.9 522.60) rotate(-0.04)" font-size="7.7" letter-spacing="0.08" stroke="#000" stroke-width="0.28">APBB1IP</text>
<text transform="translate(262.9 529.48) rotate(-0.04)" font-size="7.7" letter-spacing="0.08" stroke="#000" stroke-width="0.28">SENP7</text>
<text transform="translate(262.9 536.37) rotate(-0.04)" font-size="7.7" letter-spacing="0.08" stroke="#000" stroke-width="0.28">FAM111A</text>
<text transform="translate(262.9 543.25) rotate(-0.04)" font-size="7.7" letter-spacing="0.08" stroke="#000" stroke-width="0.28">IL16</text>
<text transform="translate(262.9 550.14) rotate(-0.04)" font-size="7.7" letter-spacing="0.08" stroke="#000" stroke-width="0.28">GFI1</text>
<text transform="translate(262.9 557.02) rotate(-0.04)" font-size="7.7" letter-spacing="0.08" stroke="#000" stroke-width="0.28">VPS13D</text>
<text transform="translate(262.9 563.91) rotate(-0.04)" font-size="7.7" letter-spacing="0.08" stroke="#000" stroke-width="0.28">KIAA0355</text>
<text x="311.55" y="564.06" font-size="7.2" text-anchor="middle" letter-spacing="1.25" stroke="#000" stroke-width="0.42">*</text>
<text transform="translate(262.9 570.79) rotate(-0.04)" font-size="7.7" letter-spacing="0.08" stroke="#000" stroke-width="0.28">BIRC2</text>
<text transform="translate(262.9 577.68) rotate(-0.04)" font-size="7.7" letter-spacing="0.08" stroke="#000" stroke-width="0.28">FYB</text>
<text transform="translate(262.9 584.56) rotate(-0.04)" font-size="7.7" letter-spacing="0.08" stroke="#000" stroke-width="0.28">DYRK1A</text>
<text transform="translate(262.9 591.45) rotate(-0.04)" font-size="7.7" letter-spacing="0.08" stroke="#000" stroke-width="0.28">RALGPS2</text>
<text transform="translate(262.9 598.33) rotate(-0.04)" font-size="7.7" letter-spacing="0.08" stroke="#000" stroke-width="0.28">TDRKH</text>
<text transform="translate(262.9 605.22) rotate(-0.04)" font-size="7.7" letter-spacing="0.08" stroke="#000" stroke-width="0.28">ZNF236</text>
<text transform="translate(262.9 612.10) rotate(-0.04)" font-size="7.7" letter-spacing="0.08" stroke="#000" stroke-width="0.28">CCDC82</text>
<text transform="translate(262.9 618.99) rotate(-0.04)" font-size="7.7" letter-spacing="0.08" stroke="#000" stroke-width="0.28">PKN2</text>
<text transform="translate(262.9 625.87) rotate(-0.04)" font-size="7.7" letter-spacing="0.08" stroke="#000" stroke-width="0.28">PDCL</text>
<text transform="translate(262.9 632.76) rotate(-0.04)" font-size="7.7" letter-spacing="0.08" stroke="#000" stroke-width="0.28">RBM12B</text>
<text transform="translate(262.9 639.64) rotate(-0.04)" font-size="7.7" letter-spacing="0.08" stroke="#000" stroke-width="0.28">KIAA0494</text>
<text transform="translate(262.9 646.53) rotate(-0.04)" font-size="7.7" letter-spacing="0.08" stroke="#000" stroke-width="0.28">SCYL1BP1</text>
<text transform="translate(262.9 653.41) rotate(-0.04)" font-size="7.7" letter-spacing="0.08" stroke="#000" stroke-width="0.28">CYHR1</text>
<text transform="translate(262.9 660.30) rotate(-0.04)" font-size="7.7" letter-spacing="0.08" stroke="#000" stroke-width="0.28">MDM4</text>
<text transform="translate(262.9 667.18) rotate(-0.04)" font-size="7.7" letter-spacing="0.08" stroke="#000" stroke-width="0.28">MTMR9</text>
<text transform="translate(262.9 674.07) rotate(-0.04)" font-size="7.7" letter-spacing="0.08" stroke="#000" stroke-width="0.28">MLL5</text>
<text x="311.55" y="674.22" font-size="7.2" text-anchor="middle" letter-spacing="1.25" stroke="#000" stroke-width="0.42">*</text>
<text transform="translate(262.9 680.95) rotate(-0.04)" font-size="7.7" letter-spacing="0.08" stroke="#000" stroke-width="0.28">YIPF5</text>
<text transform="translate(262.9 687.84) rotate(-0.04)" font-size="7.7" letter-spacing="0.08" stroke="#000" stroke-width="0.28">ZNF148</text>
<text transform="translate(262.9 694.72) rotate(-0.04)" font-size="7.7" letter-spacing="0.08" stroke="#000" stroke-width="0.28">RNF38</text>
<text transform="translate(262.9 701.61) rotate(-0.04)" font-size="7.7" letter-spacing="0.08" stroke="#000" stroke-width="0.28">ZFYVE26</text>
<text transform="translate(262.9 708.49) rotate(-0.04)" font-size="7.7" letter-spacing="0.08" stroke="#000" stroke-width="0.28">C10orf118</text>
<text x="311.55" y="708.64" font-size="7.2" text-anchor="middle" letter-spacing="1.25" stroke="#000" stroke-width="0.42">*</text>
<text transform="translate(262.9 715.38) rotate(-0.04)" font-size="7.7" letter-spacing="0.08" stroke="#000" stroke-width="0.28">ZBTB6</text>
<text transform="translate(262.9 722.26) rotate(-0.04)" font-size="7.7" letter-spacing="0.08" stroke="#000" stroke-width="0.28">CAPN7</text>
<text transform="translate(262.9 729.15) rotate(-0.04)" font-size="7.7" letter-spacing="0.08" stroke="#000" stroke-width="0.28">WDR44</text>
<text transform="translate(262.9 736.03) rotate(-0.04)" font-size="7.7" letter-spacing="0.08" stroke="#000" stroke-width="0.28">TSC22D2</text>
<text transform="translate(262.9 742.92) rotate(-0.04)" font-size="7.7" letter-spacing="0.08" stroke="#000" stroke-width="0.28">ZNF644</text>
<text x="311.55" y="743.07" font-size="7.2" text-anchor="middle" letter-spacing="1.25" stroke="#000" stroke-width="0.42">*</text>
<text transform="translate(262.9 749.80) rotate(-0.04)" font-size="7.7" letter-spacing="0.08" stroke="#000" stroke-width="0.28">ZNF292</text>
<text transform="translate(262.9 756.69) rotate(-0.04)" font-size="7.7" letter-spacing="0.08" stroke="#000" stroke-width="0.28">AFTPH</text>
<text transform="translate(262.9 763.57) rotate(-0.04)" font-size="7.7" letter-spacing="0.08" stroke="#000" stroke-width="0.28">ZNF180</text>
<text transform="translate(262.9 770.46) rotate(-0.04)" font-size="7.7" letter-spacing="0.08" stroke="#000" stroke-width="0.28">PRKACA</text>
<text transform="translate(262.9 777.34) rotate(-0.04)" font-size="7.7" letter-spacing="0.08" stroke="#000" stroke-width="0.28">TSPYL4</text>
<text transform="translate(262.9 784.23) rotate(-0.04)" font-size="7.7" letter-spacing="0.08" stroke="#000" stroke-width="0.28">ZBTB40</text>
<text transform="translate(38.90 147.50) rotate(-89.96)" font-size="6.3" text-anchor="start" stroke="#000" stroke-width="0.25" letter-spacing="0.2">DND41_control</text>
<text transform="translate(45.40 147.50) rotate(-89.96)" font-size="6.3" text-anchor="start" stroke="#000" stroke-width="0.25" letter-spacing="0.2">HPB-ALL_control</text>
<text transform="translate(51.90 147.50) rotate(-89.96)" font-size="6.3" text-anchor="start" stroke="#000" stroke-width="0.25" letter-spacing="0.2">KOPTK1_control</text>
<text transform="translate(58.40 147.50) rotate(-89.96)" font-size="6.3" text-anchor="start" stroke="#000" stroke-width="0.25" letter-spacing="0.2">TALL1_control</text>
<text transform="translate(64.90 147.50) rotate(-89.96)" font-size="6.3" text-anchor="start" stroke="#000" stroke-width="0.25" letter-spacing="0.2">DND41_GSI</text>
<text transform="translate(71.40 147.50) rotate(-89.96)" font-size="6.3" text-anchor="start" stroke="#000" stroke-width="0.25" letter-spacing="0.2">HPB-ALL_GSI</text>
<text transform="translate(77.90 147.50) rotate(-89.96)" font-size="6.3" text-anchor="start" stroke="#000" stroke-width="0.25" letter-spacing="0.2">KOPTK1_GSI</text>
<text transform="translate(84.40 147.50) rotate(-89.96)" font-size="6.3" text-anchor="start" stroke="#000" stroke-width="0.25" letter-spacing="0.2">TALL1_GSI</text>
<path d="M35.20 82.8V79.8Q35.20 78.6 36.40 78.6H58.97Q60.17 78.6 60.17 79.8V82.8M61.67 82.8V79.8Q61.67 78.6 62.87 78.6H85.54Q86.74 78.6 86.74 79.8V82.8" stroke="#2a2a2a" stroke-width="1.15" fill="none"/>
<text transform="translate(51.36 73.90) rotate(-89.96)" font-size="12.3" text-anchor="start" stroke="#000" stroke-width="0.45" >DMSO (n=4)</text>
<text transform="translate(77.38 73.90) rotate(-89.96)" font-size="12.3" text-anchor="start" stroke="#000" stroke-width="0.45" >GSI (n=4)</text>
<text transform="translate(212.10 148.20) rotate(-89.96)" font-size="6.3" text-anchor="start" stroke="#000" stroke-width="0.25" letter-spacing="0.2">DND41_control</text>
<text transform="translate(218.61 148.20) rotate(-89.96)" font-size="6.3" text-anchor="start" stroke="#000" stroke-width="0.25" letter-spacing="0.2">HPB-ALL_control</text>
<text transform="translate(225.12 148.20) rotate(-89.96)" font-size="6.3" text-anchor="start" stroke="#000" stroke-width="0.25" letter-spacing="0.2">KOPTK1_control</text>
<text transform="translate(231.63 148.20) rotate(-89.96)" font-size="6.3" text-anchor="start" stroke="#000" stroke-width="0.25" letter-spacing="0.2">TALL1_control</text>
<text transform="translate(238.14 148.20) rotate(-89.96)" font-size="6.3" text-anchor="start" stroke="#000" stroke-width="0.25" letter-spacing="0.2">DND41_GSI</text>
<text transform="translate(244.65 148.20) rotate(-89.96)" font-size="6.3" text-anchor="start" stroke="#000" stroke-width="0.25" letter-spacing="0.2">HPB-ALL_GSI</text>
<text transform="translate(251.16 148.20) rotate(-89.96)" font-size="6.3" text-anchor="start" stroke="#000" stroke-width="0.25" letter-spacing="0.2">KOPTK1_GSI</text>
<text transform="translate(257.67 148.20) rotate(-89.96)" font-size="6.3" text-anchor="start" stroke="#000" stroke-width="0.25" letter-spacing="0.2">TALL1_GSI</text>
<path d="M208.70 82.8V79.8Q208.70 78.6 209.90 78.6H232.27Q233.47 78.6 233.47 79.8V82.8M234.97 82.8V79.8Q234.97 78.6 236.17 78.6H257.34Q258.54 78.6 258.54 79.8V82.8" stroke="#2a2a2a" stroke-width="1.15" fill="none"/>
<text transform="translate(223.76 73.90) rotate(-89.96)" font-size="12.3" text-anchor="start" stroke="#000" stroke-width="0.45" >DMSO (n=4)</text>
<text transform="translate(249.58 73.90) rotate(-89.96)" font-size="12.3" text-anchor="start" stroke="#000" stroke-width="0.45" >GSI (n=4)</text>
<text transform="translate(131.30 72.20) rotate(-89.96)" font-size="12.15" text-anchor="middle" stroke="#000" stroke-width="0.45" >Significance in primary</text>
<text transform="translate(147.10 70.50) rotate(-89.96)" font-size="12.6" text-anchor="middle" stroke="#000" stroke-width="0.45" >T-ALL (WT vs MUT)</text>
<text transform="translate(307.60 70.30) rotate(-89.96)" font-size="12.15" text-anchor="middle" stroke="#000" stroke-width="0.45" >Significance in primary</text>
<text transform="translate(322.90 69.10) rotate(-89.96)" font-size="12.5" text-anchor="middle" stroke="#000" stroke-width="0.45" >T-ALL (WT vs MUT)</text>
<text transform="translate(12.20 221.90) rotate(-89.96)" font-size="12.2" text-anchor="middle" stroke="#000" stroke-width="0.45" >Group 1 (21)</text>
<text transform="translate(12.20 328.50) rotate(-89.96)" font-size="12.3" text-anchor="middle" stroke="#000" stroke-width="0.45" >Group 3 (10)</text>
<text transform="translate(12.20 449.00) rotate(-89.96)" font-size="12.3" text-anchor="middle" stroke="#000" stroke-width="0.45" >Group 4 (25)</text>
<text transform="translate(12.00 610.50) rotate(-89.96)" font-size="12.3" text-anchor="start" stroke="#000" stroke-width="0.45" >Group 5 (1)</text>
<text transform="translate(27.00 626.40) rotate(-89.96)" font-size="12.3" text-anchor="start" stroke="#000" stroke-width="0.45" >Group 6 (1)</text>
<text transform="translate(185.60 306.00) rotate(-89.96)" font-size="12.1" text-anchor="middle" stroke="#000" stroke-width="0.45" >Group 7 (46)</text>
<text transform="translate(185.60 624.60) rotate(-89.96)" font-size="12.1" text-anchor="middle" stroke="#000" stroke-width="0.45" >Group 8 (46)</text>
<path d="M29.20 150.90L25.40 150.90Q23.80 150.90 23.80 152.70V290.80Q23.80 292.60 25.40 292.73L29.20 293.90M23.80 221.00L22.60 221.00L17.80 220.70" stroke="#3a3a3a" stroke-width="1.35" fill="none" stroke-linejoin="round"/>
<path d="M30.40 294.90L25.40 296.25Q23.80 296.40 23.80 298.20V359.80Q23.80 361.60 25.40 361.73L30.40 362.90M23.80 328.80L22.60 328.80L17.80 328.50" stroke="#3a3a3a" stroke-width="1.35" fill="none" stroke-linejoin="round"/>
<path d="M30.40 363.90L25.40 365.25Q23.80 365.40 23.80 367.20V530.20Q23.80 532.00 25.40 532.00L30.40 532.00M23.80 448.20L22.60 448.20L17.80 447.90" stroke="#3a3a3a" stroke-width="1.35" fill="none" stroke-linejoin="round"/>
<path d="M6.4 543.5L29.2 536.3M22.2 558L29.9 546" stroke="#3a3a3a" stroke-width="1.1" fill="none"/>
<path d="M204.40 152.00L199.50 152.00Q197.90 152.00 197.90 153.80V462.50Q197.90 464.30 199.50 464.42L204.40 465.50M197.90 306.00L196.70 306.00L191.40 305.70" stroke="#3a3a3a" stroke-width="1.35" fill="none" stroke-linejoin="round"/>
<path d="M204.40 467.80L199.50 468.70Q197.90 468.80 197.90 470.60V780.90Q197.90 782.70 199.50 782.70L204.40 782.70M197.90 623.70L196.70 623.70L191.40 623.40" stroke="#3a3a3a" stroke-width="1.35" fill="none" stroke-linejoin="round"/>
<defs><linearGradient id="fade" x1="0" x2="0" y1="0" y2="1"><stop offset="0" stop-color="#fff" stop-opacity="0"/><stop offset="0.45" stop-color="#fff" stop-opacity="0.12"/><stop offset="1" stop-color="#fff" stop-opacity="0.32"/></linearGradient></defs>
<rect x="348.2" y="78.2" width="165.6" height="100.3" fill="#EEEADA"/>
<rect x="369.2" y="92.1" width="130.1" height="80.5" fill="#fff"/>
<rect x="369.2" y="92.1" width="130.1" height="57.1" fill="none" stroke="#d8d8e0" stroke-width="0.5"/>
<path d="M369.2 101.3H499.3" stroke="#d0c8e8" stroke-width="0.6"/>
<text x="427.0" y="87.7" font-size="5.45" text-anchor="middle" fill="#111" stroke="#111" stroke-width="0.12">Enrichment plot: MYC_ONCOGENIC_SIGNATURE</text>
<text x="367.7" y="96.2" font-size="3.3" text-anchor="end" font-weight="bold" fill="#333">0.1</text>
<text x="367.7" y="103.1" font-size="3.3" text-anchor="end" font-weight="bold" fill="#333">0.0</text>
<text x="367.7" y="110.1" font-size="3.3" text-anchor="end" font-weight="bold" fill="#333">-0.1</text>
<text x="367.7" y="117.0" font-size="3.3" text-anchor="end" font-weight="bold" fill="#333">-0.2</text>
<text x="367.7" y="124.0" font-size="3.3" text-anchor="end" font-weight="bold" fill="#333">-0.3</text>
<text x="367.7" y="130.9" font-size="3.3" text-anchor="end" font-weight="bold" fill="#333">-0.4</text>
<text x="367.7" y="137.9" font-size="3.3" text-anchor="end" font-weight="bold" fill="#333">-0.5</text>
<text x="367.7" y="144.8" font-size="3.3" text-anchor="end" font-weight="bold" fill="#333">-0.6</text>
<text transform="translate(359.6 120.0) rotate(-90)" font-size="3.5" text-anchor="middle" font-weight="bold" fill="#444">Enrichment score (ES)</text>
<rect x="369.71" y="149.2" width="4.04" height="18.5" fill="#4a4a4a"/>
<rect x="373.75" y="149.2" width="0.94" height="18.5" fill="#b0b0b0"/>
<rect x="374.69" y="149.2" width="3.10" height="18.5" fill="#6a6a6a"/>
<rect x="379.13" y="149.2" width="2.02" height="18.5" fill="#787878"/>
<rect x="381.15" y="149.2" width="1.08" height="18.5" fill="#c8c8c8"/>
<rect x="382.23" y="149.2" width="4.31" height="18.5" fill="#6a6a6a"/>
<rect x="386.53" y="149.2" width="3.36" height="18.5" fill="#b4b4b4"/>
<rect x="393.94" y="149.2" width="3.10" height="18.5" fill="#7a7a7a"/>
<rect x="397.03" y="149.2" width="0.81" height="18.5" fill="#b0b0b0"/>
<rect x="397.84" y="149.2" width="2.15" height="18.5" fill="#7a7a7a"/>
<rect x="401.07" y="149.2" width="5.65" height="18.5" fill="#787878"/>
<rect x="406.72" y="149.2" width="2.02" height="18.5" fill="#c4c4c4"/>
<rect x="408.74" y="149.2" width="2.69" height="18.5" fill="#707070"/>
<rect x="395.00" y="149.2" width="4.71" height="18.5" fill="#7c7c7c"/>
<rect x="399.71" y="149.2" width="1.35" height="18.5" fill="#c0c0c0"/>
<rect x="401.06" y="149.2" width="2.02" height="18.5" fill="#787878"/>
<rect x="403.08" y="149.2" width="0.67" height="18.5" fill="#b0b0b0"/>
<rect x="403.75" y="149.2" width="3.36" height="18.5" fill="#787878"/>
<rect x="409.54" y="149.2" width="2.29" height="18.5" fill="#747474"/>
<rect x="413.84" y="149.2" width="2.02" height="18.5" fill="#787878"/>
<rect x="416.94" y="149.2" width="0.54" height="18.5" fill="#c0c0c0"/>
<rect x="420.57" y="149.2" width="3.36" height="18.5" fill="#8c8c8c"/>
<rect x="423.94" y="149.2" width="1.75" height="18.5" fill="#c8c8c8"/>
<rect x="425.69" y="149.2" width="3.63" height="18.5" fill="#6a6a6a"/>
<rect x="429.32" y="149.2" width="2.02" height="18.5" fill="#c4c4c4"/>
<rect x="431.34" y="149.2" width="4.04" height="18.5" fill="#787878"/>
<rect x="436.99" y="149.2" width="1.35" height="18.5" fill="#808080"/>
<rect x="441.43" y="149.2" width="2.29" height="18.5" fill="#5c5c5c"/>
<rect x="445.47" y="149.2" width="2.29" height="18.5" fill="#505050"/>
<rect x="450.18" y="149.2" width="2.02" height="18.5" fill="#787878"/>
<rect x="452.20" y="149.2" width="2.02" height="18.5" fill="#cccccc"/>
<rect x="454.22" y="149.2" width="2.02" height="18.5" fill="#505050"/>
<rect x="456.24" y="149.2" width="2.02" height="18.5" fill="#c8c8c8"/>
<rect x="458.26" y="149.2" width="2.02" height="18.5" fill="#787878"/>
<rect x="446.15" y="149.2" width="2.69" height="18.5" fill="#505050"/>
<rect x="448.84" y="149.2" width="1.35" height="18.5" fill="#c4c4c4"/>
<rect x="450.19" y="149.2" width="1.35" height="18.5" fill="#787878"/>
<rect x="453.55" y="149.2" width="3.36" height="18.5" fill="#4c4c4c"/>
<rect x="456.92" y="149.2" width="2.02" height="18.5" fill="#c8c8c8"/>
<rect x="458.94" y="149.2" width="1.35" height="18.5" fill="#787878"/>
<rect x="461.63" y="149.2" width="1.35" height="18.5" fill="#505050"/>
<rect x="462.97" y="149.2" width="2.02" height="18.5" fill="#b0b0b0"/>
<rect x="464.99" y="149.2" width="2.42" height="18.5" fill="#909090"/>
<rect x="471.05" y="149.2" width="4.04" height="18.5" fill="#4c4c4c"/>
<rect x="475.09" y="149.2" width="1.35" height="18.5" fill="#c0c0c0"/>
<rect x="476.43" y="149.2" width="2.69" height="18.5" fill="#808080"/>
<rect x="482.76" y="149.2" width="2.69" height="18.5" fill="#3c3c3c"/>
<rect x="485.45" y="149.2" width="2.42" height="18.5" fill="#cccccc"/>
<rect x="487.87" y="149.2" width="4.71" height="18.5" fill="#080808"/>
<rect x="369.6" y="149.2" width="123.4" height="18.5" fill="url(#fade)"/>
<rect x="487.87" y="149.2" width="4.71" height="18.5" fill="#080808" fill-opacity="0.8"/>
<linearGradient id="cb1" x1="0" x2="1" y1="0" y2="0"><stop offset="0" stop-color="#E02830"/><stop offset="0.2" stop-color="#E43444"/><stop offset="0.25" stop-color="#F06888"/><stop offset="0.29" stop-color="#F498C0"/><stop offset="0.42" stop-color="#F4A8E0"/><stop offset="0.47" stop-color="#C8B8F4"/><stop offset="0.75" stop-color="#B0A8F8"/><stop offset="0.795" stop-color="#6858E8"/><stop offset="0.94" stop-color="#4030D8"/><stop offset="0.955" stop-color="#200080"/><stop offset="1" stop-color="#180070"/></linearGradient>
<rect x="369.6" y="167.7" width="123.4" height="4.3" fill="url(#cb1)"/>
<path d="M369.4 99.6 L370.5 96.2 L372.5 94.3 L375.3 93.4 L378.0 93.8 L382.0 95.2 L387.0 97.0 L391.7 99.2 L400.0 103.6 L435.0 121.7 L460.0 134.3 L476.0 142.3 L480.0 144.4 L482.5 145.3 L484.5 144.8 L486.0 143.6 L487.5 143.4 L488.8 142.4 L490.0 138.0 L491.2 130.0 L492.3 118.0 L493.2 107.0 L493.7 100.8" stroke="#40EC40" stroke-width="1.3" fill="none" stroke-linejoin="round" stroke-linecap="round"/>
<text x="356.4" y="174.4" font-size="11">G</text>
<text x="503.6" y="173.4" font-size="11">D</text>
<rect x="352.0" y="254.2" width="168.0" height="100.8" fill="#EEEADA"/>
<rect x="376.1" y="268.2" width="127.8" height="81.1" fill="#fff"/>
<rect x="376.1" y="268.2" width="127.8" height="57.6" fill="none" stroke="#d8d8e0" stroke-width="0.5"/>
<path d="M376.1 276.6H503.9" stroke="#d0c8e8" stroke-width="0.6"/>
<text x="432.5" y="264.4" font-size="5.45" text-anchor="middle" fill="#111" stroke="#111" stroke-width="0.12">Enrichment plot: MYC_ONCOGENIC_SIGNATURE</text>
<text x="374.6" y="277.7" font-size="3.3" text-anchor="end" font-weight="bold" fill="#333">0.0</text>
<text x="374.6" y="287.3" font-size="3.3" text-anchor="end" font-weight="bold" fill="#333">-0.1</text>
<text x="374.6" y="296.9" font-size="3.3" text-anchor="end" font-weight="bold" fill="#333">-0.2</text>
<text x="374.6" y="306.5" font-size="3.3" text-anchor="end" font-weight="bold" fill="#333">-0.3</text>
<text x="374.6" y="316.1" font-size="3.3" text-anchor="end" font-weight="bold" fill="#333">-0.4</text>
<text x="374.6" y="325.7" font-size="3.3" text-anchor="end" font-weight="bold" fill="#333">-0.5</text>
<text transform="translate(366.6 296.5) rotate(-90)" font-size="3.5" text-anchor="middle" font-weight="bold" fill="#444">Enrichment score (ES)</text>
<rect x="376.06" y="325.8" width="3.36" height="18.4" fill="#848484"/>
<rect x="379.42" y="325.8" width="2.69" height="18.4" fill="#2c2c2c"/>
<rect x="382.11" y="325.8" width="1.35" height="18.4" fill="#c4c4c4"/>
<rect x="383.46" y="325.8" width="4.04" height="18.4" fill="#707070"/>
<rect x="387.50" y="325.8" width="1.35" height="18.4" fill="#c4c4c4"/>
<rect x="388.84" y="325.8" width="2.69" height="18.4" fill="#787878"/>
<rect x="391.53" y="325.8" width="1.35" height="18.4" fill="#b8b8b8"/>
<rect x="392.88" y="325.8" width="3.36" height="18.4" fill="#808080"/>
<rect x="400.69" y="325.8" width="2.96" height="18.4" fill="#505050"/>
<rect x="403.65" y="325.8" width="1.62" height="18.4" fill="#c4c4c4"/>
<rect x="405.26" y="325.8" width="1.75" height="18.4" fill="#787878"/>
<rect x="409.03" y="325.8" width="4.04" height="18.4" fill="#808080"/>
<rect x="413.07" y="325.8" width="2.69" height="18.4" fill="#404040"/>
<rect x="415.76" y="325.8" width="4.04" height="18.4" fill="#b8b8b8"/>
<rect x="419.80" y="325.8" width="2.02" height="18.4" fill="#787878"/>
<rect x="423.84" y="325.8" width="1.62" height="18.4" fill="#949494"/>
<rect x="429.22" y="325.8" width="1.35" height="18.4" fill="#c0c0c0"/>
<rect x="430.57" y="325.8" width="4.04" height="18.4" fill="#707070"/>
<rect x="434.60" y="325.8" width="1.35" height="18.4" fill="#c4c4c4"/>
<rect x="435.95" y="325.8" width="4.04" height="18.4" fill="#787878"/>
<rect x="435.00" y="325.8" width="2.69" height="18.4" fill="#949494"/>
<rect x="439.04" y="325.8" width="2.02" height="18.4" fill="#949494"/>
<rect x="444.42" y="325.8" width="2.02" height="18.4" fill="#747474"/>
<rect x="446.44" y="325.8" width="4.71" height="18.4" fill="#505050"/>
<rect x="451.15" y="325.8" width="2.02" height="18.4" fill="#989898"/>
<rect x="453.17" y="325.8" width="2.02" height="18.4" fill="#cccccc"/>
<rect x="455.19" y="325.8" width="2.69" height="18.4" fill="#848484"/>
<rect x="457.88" y="325.8" width="1.35" height="18.4" fill="#cccccc"/>
<rect x="459.23" y="325.8" width="2.69" height="18.4" fill="#848484"/>
<rect x="461.92" y="325.8" width="2.02" height="18.4" fill="#606060"/>
<rect x="463.94" y="325.8" width="2.02" height="18.4" fill="#cccccc"/>
<rect x="465.96" y="325.8" width="3.36" height="18.4" fill="#707070"/>
<rect x="469.32" y="325.8" width="1.35" height="18.4" fill="#cccccc"/>
<rect x="470.67" y="325.8" width="3.36" height="18.4" fill="#505050"/>
<rect x="474.03" y="325.8" width="1.35" height="18.4" fill="#cccccc"/>
<rect x="475.38" y="325.8" width="2.42" height="18.4" fill="#707070"/>
<rect x="481.03" y="325.8" width="4.44" height="18.4" fill="#060606"/>
<rect x="485.47" y="325.8" width="2.02" height="18.4" fill="#b8b8b8"/>
<rect x="487.49" y="325.8" width="2.69" height="18.4" fill="#2c2c2c"/>
<rect x="490.18" y="325.8" width="1.35" height="18.4" fill="#707070"/>
<rect x="491.53" y="325.8" width="2.69" height="18.4" fill="#2c2c2c"/>
<rect x="494.22" y="325.8" width="4.04" height="18.4" fill="#060606"/>
<rect x="376.3" y="325.8" width="122.2" height="18.4" fill="url(#fade)"/>
<rect x="379.42" y="325.8" width="2.69" height="18.4" fill="#2c2c2c" fill-opacity="0.8"/>
<rect x="481.03" y="325.8" width="4.44" height="18.4" fill="#060606" fill-opacity="0.8"/>
<rect x="487.49" y="325.8" width="2.69" height="18.4" fill="#2c2c2c" fill-opacity="0.8"/>
<rect x="491.53" y="325.8" width="2.69" height="18.4" fill="#2c2c2c" fill-opacity="0.8"/>
<rect x="494.22" y="325.8" width="4.04" height="18.4" fill="#060606" fill-opacity="0.8"/>
<linearGradient id="cb2" x1="0" x2="1" y1="0" y2="0"><stop offset="0" stop-color="#D83030"/><stop offset="0.17" stop-color="#DC3840"/><stop offset="0.24" stop-color="#E86068"/><stop offset="0.41" stop-color="#EC7080"/><stop offset="0.47" stop-color="#ECA0C8"/><stop offset="0.54" stop-color="#E8A8D8"/><stop offset="0.59" stop-color="#C8C0F0"/><stop offset="0.72" stop-color="#B8B0F0"/><stop offset="0.745" stop-color="#6858E0"/><stop offset="0.92" stop-color="#4030D0"/><stop offset="0.935" stop-color="#1C0088"/><stop offset="1" stop-color="#180070"/></linearGradient>
<rect x="376.3" y="344.2" width="122.2" height="4.5" fill="url(#cb2)"/>
<path d="M376.3 275.8 L378.0 275.2 L379.6 274.0 L380.8 272.0 L382.2 270.9 L384.5 270.9 L386.5 270.5 L390.0 270.6 L392.5 271.2 L395.2 271.8 L398.0 273.4 L401.2 275.4 L403.0 275.6 L404.7 276.1 L409.0 279.0 L414.2 282.7 L425.0 289.5 L435.0 295.7 L447.3 305.2 L456.0 311.2 L464.6 316.4 L470.0 318.4 L476.7 319.9 L479.0 321.2 L481.0 322.1 L483.0 321.2 L484.8 319.2 L486.2 318.1 L488.0 318.8 L489.7 318.5 L491.2 316.5 L492.6 313.8 L494.2 310.5 L495.7 305.2 L496.8 298.0 L497.8 289.6 L498.3 282.0 L498.7 275.8" stroke="#40EC40" stroke-width="1.3" fill="none" stroke-linejoin="round" stroke-linecap="round"/>
<text x="360.6" y="351.2" font-size="11">W</text>
<text x="507.3" y="351.2" font-size="11">M</text>
<text x="437.2" y="49.5" font-size="12.3" text-anchor="middle" stroke="#000" stroke-width="0.3">MYC oncogenic signature</text>
<text x="432.6" y="73.4" font-size="12.1" text-anchor="middle" stroke="#000" stroke-width="0.3"><tspan font-style="italic">P</tspan> &lt; .01, NES -2.27</text>
<text x="434.0" y="195.9" font-size="12.45" text-anchor="middle" stroke="#000" stroke-width="0.3">T-ALL cell lines</text>
<text x="434.0" y="211.0" font-size="12.45" text-anchor="middle" stroke="#000" stroke-width="0.3">(GSI vs DMSO)</text>
<text x="437.8" y="249.2" font-size="12.1" text-anchor="middle" stroke="#000" stroke-width="0.3"><tspan font-style="italic">P</tspan> &lt; .01, NES -2.04</text>
<text x="442.6" y="372.4" font-size="12.4" text-anchor="middle" stroke="#000" stroke-width="0.3">Primary T-ALL samples</text>
<text x="443.6" y="387.4" font-size="12.5" text-anchor="middle" stroke="#000" stroke-width="0.3">(WT vs MUT)</text>
</svg>
</body></html>
